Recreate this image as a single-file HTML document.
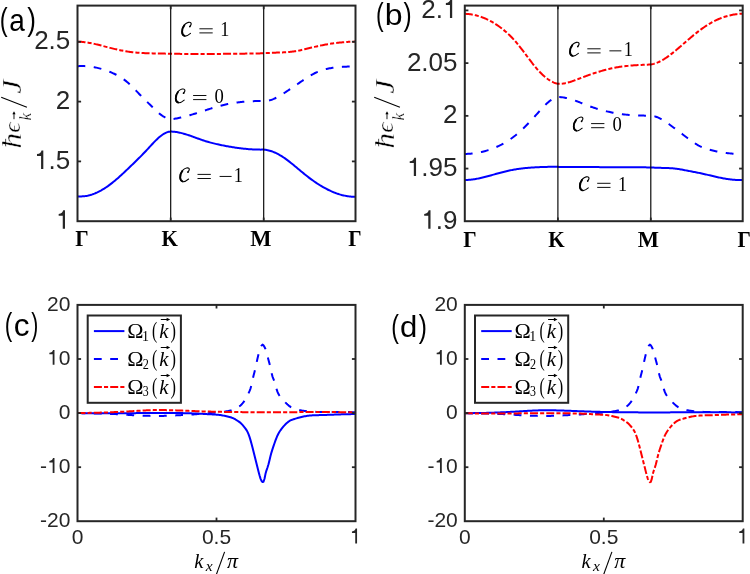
<!DOCTYPE html>
<html><head><meta charset="utf-8"><style>
html,body{margin:0;padding:0;background:#fff;}
svg{display:block;will-change:transform;}
text{-webkit-font-smoothing:antialiased;}
</style></head><body>
<svg width="750" height="574" viewBox="0 0 750 574">
<rect x="0" y="0" width="750" height="574" fill="#fff"/>
<path d="M77.50 196.30 L78.49 196.38 L79.48 196.42 L80.47 196.43 L81.47 196.42 L82.46 196.37 L83.45 196.30 L84.44 196.19 L85.43 196.06 L86.42 195.90 L87.41 195.71 L88.41 195.49 L89.40 195.24 L90.39 194.97 L91.38 194.67 L92.37 194.35 L93.36 193.99 L94.36 193.62 L95.35 193.22 L96.34 192.79 L97.33 192.34 L98.32 191.86 L99.31 191.36 L100.30 190.84 L101.30 190.30 L102.29 189.73 L103.28 189.14 L104.27 188.53 L105.26 187.89 L106.25 187.24 L107.24 186.56 L108.24 185.87 L109.23 185.15 L110.22 184.41 L111.21 183.66 L112.20 182.88 L113.19 182.09 L114.19 181.28 L115.18 180.45 L116.17 179.61 L117.16 178.76 L118.15 177.89 L119.14 177.01 L120.13 176.11 L121.13 175.21 L122.12 174.30 L123.11 173.38 L124.10 172.45 L125.09 171.51 L126.08 170.57 L127.07 169.63 L128.07 168.68 L129.06 167.73 L130.05 166.78 L131.04 165.83 L132.03 164.87 L133.02 163.92 L134.01 162.96 L135.01 161.99 L136.00 161.02 L136.99 160.05 L137.98 159.07 L138.97 158.08 L139.96 157.09 L140.96 156.09 L141.95 155.08 L142.94 154.06 L143.93 153.03 L144.92 151.99 L145.91 150.94 L146.90 149.88 L147.90 148.81 L148.89 147.73 L149.88 146.65 L150.87 145.58 L151.86 144.51 L152.85 143.45 L153.84 142.41 L154.84 141.39 L155.83 140.39 L156.82 139.43 L157.81 138.49 L158.80 137.60 L159.79 136.75 L160.79 135.95 L161.78 135.21 L162.77 134.52 L163.76 133.89 L164.75 133.33 L165.74 132.83 L166.73 132.42 L167.73 132.08 L168.72 131.83 L169.71 131.67 L170.70 131.60 L171.70 131.62 L172.70 131.67 L173.70 131.74 L174.70 131.84 L175.70 131.97 L176.70 132.11 L177.70 132.28 L178.70 132.47 L179.70 132.67 L180.70 132.90 L181.70 133.14 L182.70 133.40 L183.70 133.68 L184.70 133.96 L185.70 134.26 L186.70 134.58 L187.70 134.90 L188.70 135.23 L189.70 135.57 L190.70 135.91 L191.70 136.27 L192.70 136.62 L193.70 136.98 L194.70 137.35 L195.70 137.71 L196.70 138.08 L197.70 138.44 L198.70 138.80 L199.70 139.16 L200.70 139.52 L201.70 139.86 L202.70 140.21 L203.70 140.54 L204.70 140.87 L205.70 141.18 L206.70 141.49 L207.70 141.79 L208.70 142.08 L209.70 142.36 L210.70 142.63 L211.70 142.89 L212.70 143.15 L213.70 143.40 L214.70 143.64 L215.70 143.87 L216.70 144.10 L217.70 144.33 L218.70 144.55 L219.70 144.76 L220.70 144.97 L221.70 145.18 L222.70 145.38 L223.70 145.58 L224.70 145.77 L225.70 145.96 L226.70 146.15 L227.70 146.34 L228.70 146.51 L229.70 146.69 L230.70 146.86 L231.70 147.03 L232.70 147.19 L233.70 147.35 L234.70 147.50 L235.70 147.65 L236.70 147.80 L237.70 147.94 L238.70 148.07 L239.70 148.20 L240.70 148.32 L241.70 148.44 L242.70 148.56 L243.70 148.67 L244.70 148.77 L245.70 148.87 L246.70 148.96 L247.70 149.05 L248.70 149.13 L249.70 149.21 L250.70 149.28 L251.70 149.34 L252.70 149.40 L253.70 149.45 L254.70 149.49 L255.70 149.53 L256.70 149.56 L257.70 149.59 L258.70 149.61 L259.70 149.62 L260.70 149.63 L261.70 149.62 L262.70 149.62 L263.70 149.60 L264.70 149.69 L265.70 149.82 L266.69 149.99 L267.69 150.18 L268.69 150.42 L269.69 150.68 L270.68 150.98 L271.68 151.31 L272.68 151.68 L273.68 152.07 L274.68 152.49 L275.67 152.94 L276.67 153.42 L277.67 153.93 L278.67 154.46 L279.67 155.02 L280.66 155.60 L281.66 156.21 L282.66 156.84 L283.66 157.50 L284.65 158.18 L285.65 158.88 L286.65 159.60 L287.65 160.34 L288.65 161.10 L289.64 161.87 L290.64 162.66 L291.64 163.46 L292.64 164.27 L293.63 165.10 L294.63 165.92 L295.63 166.76 L296.63 167.59 L297.63 168.43 L298.62 169.27 L299.62 170.10 L300.62 170.93 L301.62 171.76 L302.62 172.58 L303.61 173.39 L304.61 174.20 L305.61 175.00 L306.61 175.79 L307.60 176.57 L308.60 177.34 L309.60 178.10 L310.60 178.85 L311.60 179.59 L312.59 180.31 L313.59 181.02 L314.59 181.72 L315.59 182.40 L316.58 183.07 L317.58 183.73 L318.58 184.37 L319.58 185.00 L320.58 185.61 L321.57 186.21 L322.57 186.80 L323.57 187.37 L324.57 187.92 L325.57 188.46 L326.56 188.99 L327.56 189.50 L328.56 189.99 L329.56 190.47 L330.55 190.94 L331.55 191.38 L332.55 191.81 L333.55 192.23 L334.55 192.62 L335.54 193.00 L336.54 193.37 L337.54 193.71 L338.54 194.04 L339.53 194.36 L340.53 194.65 L341.53 194.93 L342.53 195.18 L343.53 195.42 L344.52 195.64 L345.52 195.85 L346.52 196.03 L347.52 196.19 L348.52 196.34 L349.51 196.46 L350.51 196.57 L351.51 196.66 L352.51 196.72 L353.50 196.77 L354.50 196.79 L355.50 196.80" fill="none" stroke="#0000ff" stroke-width="2.00" stroke-linejoin="round"/>
<path d="M77.50 66.20 L78.49 66.14 L79.48 66.09 L80.47 66.06 L81.47 66.05 L82.46 66.05 L83.45 66.07 L84.44 66.10 L85.43 66.15 L86.42 66.21 L87.41 66.29 L88.41 66.38 L89.40 66.48 L90.39 66.61 L91.38 66.74 L92.37 66.89 L93.36 67.06 L94.36 67.24 L95.35 67.43 L96.34 67.64 L97.33 67.87 L98.32 68.10 L99.31 68.35 L100.30 68.62 L101.30 68.90 L102.29 69.19 L103.28 69.50 L104.27 69.82 L105.26 70.15 L106.25 70.50 L107.24 70.87 L108.24 71.24 L109.23 71.63 L110.22 72.03 L111.21 72.45 L112.20 72.88 L113.19 73.32 L114.19 73.78 L115.18 74.25 L116.17 74.75 L117.16 75.26 L118.15 75.80 L119.14 76.36 L120.13 76.95 L121.13 77.56 L122.12 78.21 L123.11 78.89 L124.10 79.59 L125.09 80.34 L126.08 81.12 L127.07 81.94 L128.07 82.79 L129.06 83.69 L130.05 84.62 L131.04 85.58 L132.03 86.56 L133.02 87.56 L134.01 88.57 L135.01 89.60 L136.00 90.62 L136.99 91.65 L137.98 92.68 L138.97 93.70 L139.96 94.71 L140.96 95.71 L141.95 96.71 L142.94 97.70 L143.93 98.68 L144.92 99.67 L145.91 100.65 L146.90 101.63 L147.90 102.61 L148.89 103.60 L149.88 104.58 L150.87 105.57 L151.86 106.55 L152.85 107.54 L153.84 108.51 L154.84 109.47 L155.83 110.41 L156.82 111.32 L157.81 112.21 L158.80 113.06 L159.79 113.87 L160.79 114.64 L161.78 115.36 L162.77 116.03 L163.76 116.65 L164.75 117.21 L165.74 117.72 L166.73 118.16 L167.73 118.55 L168.72 118.86 L169.71 119.12 L170.70 119.30 L171.70 119.18 L172.70 119.05 L173.70 118.91 L174.70 118.75 L175.70 118.59 L176.70 118.41 L177.70 118.22 L178.70 118.02 L179.70 117.81 L180.70 117.59 L181.70 117.36 L182.70 117.12 L183.70 116.88 L184.70 116.62 L185.70 116.36 L186.70 116.09 L187.70 115.82 L188.70 115.54 L189.70 115.25 L190.70 114.96 L191.70 114.66 L192.70 114.36 L193.70 114.05 L194.70 113.74 L195.70 113.43 L196.70 113.11 L197.70 112.79 L198.70 112.47 L199.70 112.15 L200.70 111.82 L201.70 111.50 L202.70 111.17 L203.70 110.84 L204.70 110.52 L205.70 110.19 L206.70 109.87 L207.70 109.55 L208.70 109.23 L209.70 108.91 L210.70 108.60 L211.70 108.29 L212.70 107.98 L213.70 107.68 L214.70 107.38 L215.70 107.08 L216.70 106.80 L217.70 106.51 L218.70 106.24 L219.70 105.97 L220.70 105.70 L221.70 105.45 L222.70 105.20 L223.70 104.96 L224.70 104.73 L225.70 104.51 L226.70 104.29 L227.70 104.09 L228.70 103.89 L229.70 103.69 L230.70 103.51 L231.70 103.33 L232.70 103.16 L233.70 103.00 L234.70 102.84 L235.70 102.69 L236.70 102.55 L237.70 102.42 L238.70 102.29 L239.70 102.17 L240.70 102.06 L241.70 101.95 L242.70 101.85 L243.70 101.75 L244.70 101.67 L245.70 101.58 L246.70 101.51 L247.70 101.44 L248.70 101.38 L249.70 101.32 L250.70 101.27 L251.70 101.22 L252.70 101.18 L253.70 101.15 L254.70 101.12 L255.70 101.10 L256.70 101.08 L257.70 101.07 L258.70 101.06 L259.70 101.06 L260.70 101.06 L261.70 101.07 L262.70 101.08 L263.70 101.10 L264.70 101.10 L265.70 101.05 L266.69 100.95 L267.69 100.80 L268.69 100.59 L269.69 100.34 L270.68 100.05 L271.68 99.72 L272.68 99.35 L273.68 98.94 L274.68 98.50 L275.67 98.02 L276.67 97.52 L277.67 96.99 L278.67 96.44 L279.67 95.87 L280.66 95.27 L281.66 94.66 L282.66 94.04 L283.66 93.40 L284.65 92.75 L285.65 92.10 L286.65 91.44 L287.65 90.77 L288.65 90.11 L289.64 89.44 L290.64 88.76 L291.64 88.09 L292.64 87.41 L293.63 86.73 L294.63 86.05 L295.63 85.37 L296.63 84.68 L297.63 84.00 L298.62 83.31 L299.62 82.63 L300.62 81.94 L301.62 81.26 L302.62 80.58 L303.61 79.90 L304.61 79.23 L305.61 78.57 L306.61 77.91 L307.60 77.27 L308.60 76.64 L309.60 76.03 L310.60 75.43 L311.60 74.85 L312.59 74.29 L313.59 73.76 L314.59 73.24 L315.59 72.75 L316.58 72.29 L317.58 71.85 L318.58 71.44 L319.58 71.06 L320.58 70.69 L321.57 70.35 L322.57 70.03 L323.57 69.74 L324.57 69.46 L325.57 69.20 L326.56 68.95 L327.56 68.73 L328.56 68.52 L329.56 68.33 L330.55 68.15 L331.55 67.98 L332.55 67.83 L333.55 67.69 L334.55 67.56 L335.54 67.44 L336.54 67.33 L337.54 67.23 L338.54 67.14 L339.53 67.05 L340.53 66.98 L341.53 66.91 L342.53 66.84 L343.53 66.78 L344.52 66.73 L345.52 66.68 L346.52 66.63 L347.52 66.58 L348.52 66.54 L349.51 66.49 L350.51 66.45 L351.51 66.40 L352.51 66.36 L353.50 66.31 L354.50 66.25 L355.50 66.20" fill="none" stroke="#0000ff" stroke-width="2.00" stroke-linejoin="round" stroke-dasharray="7.8 8.5"/>
<path d="M77.50 41.70 L78.49 41.71 L79.48 41.75 L80.47 41.80 L81.47 41.86 L82.46 41.94 L83.45 42.04 L84.44 42.15 L85.43 42.27 L86.42 42.41 L87.41 42.56 L88.41 42.72 L89.40 42.89 L90.39 43.07 L91.38 43.26 L92.37 43.46 L93.36 43.67 L94.36 43.89 L95.35 44.11 L96.34 44.35 L97.33 44.58 L98.32 44.82 L99.31 45.07 L100.30 45.32 L101.30 45.57 L102.29 45.83 L103.28 46.09 L104.27 46.35 L105.26 46.61 L106.25 46.87 L107.24 47.13 L108.24 47.39 L109.23 47.65 L110.22 47.90 L111.21 48.15 L112.20 48.40 L113.19 48.64 L114.19 48.88 L115.18 49.12 L116.17 49.34 L117.16 49.57 L118.15 49.79 L119.14 50.00 L120.13 50.21 L121.13 50.41 L122.12 50.60 L123.11 50.79 L124.10 50.97 L125.09 51.14 L126.08 51.31 L127.07 51.47 L128.07 51.62 L129.06 51.77 L130.05 51.90 L131.04 52.03 L132.03 52.15 L133.02 52.26 L134.01 52.37 L135.01 52.46 L136.00 52.56 L136.99 52.64 L137.98 52.72 L138.97 52.79 L139.96 52.86 L140.96 52.92 L141.95 52.98 L142.94 53.04 L143.93 53.08 L144.92 53.13 L145.91 53.17 L146.90 53.21 L147.90 53.24 L148.89 53.27 L149.88 53.30 L150.87 53.33 L151.86 53.35 L152.85 53.38 L153.84 53.40 L154.84 53.42 L155.83 53.44 L156.82 53.45 L157.81 53.47 L158.80 53.49 L159.79 53.51 L160.79 53.53 L161.78 53.55 L162.77 53.57 L163.76 53.59 L164.75 53.61 L165.74 53.64 L166.73 53.66 L167.73 53.69 L168.72 53.73 L169.71 53.76 L170.70 53.80 L171.70 53.81 L172.70 53.82 L173.70 53.83 L174.70 53.84 L175.70 53.84 L176.70 53.85 L177.70 53.86 L178.70 53.87 L179.70 53.87 L180.70 53.88 L181.70 53.89 L182.70 53.89 L183.70 53.90 L184.70 53.90 L185.70 53.91 L186.70 53.91 L187.70 53.92 L188.70 53.92 L189.70 53.92 L190.70 53.93 L191.70 53.93 L192.70 53.93 L193.70 53.94 L194.70 53.94 L195.70 53.94 L196.70 53.94 L197.70 53.94 L198.70 53.94 L199.70 53.94 L200.70 53.94 L201.70 53.94 L202.70 53.94 L203.70 53.94 L204.70 53.94 L205.70 53.94 L206.70 53.94 L207.70 53.94 L208.70 53.93 L209.70 53.93 L210.70 53.93 L211.70 53.92 L212.70 53.92 L213.70 53.92 L214.70 53.91 L215.70 53.91 L216.70 53.90 L217.70 53.90 L218.70 53.89 L219.70 53.88 L220.70 53.88 L221.70 53.87 L222.70 53.86 L223.70 53.86 L224.70 53.85 L225.70 53.84 L226.70 53.83 L227.70 53.82 L228.70 53.82 L229.70 53.81 L230.70 53.80 L231.70 53.79 L232.70 53.78 L233.70 53.77 L234.70 53.76 L235.70 53.74 L236.70 53.73 L237.70 53.72 L238.70 53.71 L239.70 53.70 L240.70 53.68 L241.70 53.67 L242.70 53.66 L243.70 53.64 L244.70 53.63 L245.70 53.61 L246.70 53.60 L247.70 53.58 L248.70 53.57 L249.70 53.55 L250.70 53.54 L251.70 53.52 L252.70 53.50 L253.70 53.49 L254.70 53.47 L255.70 53.45 L256.70 53.43 L257.70 53.42 L258.70 53.40 L259.70 53.38 L260.70 53.36 L261.70 53.34 L262.70 53.32 L263.70 53.30 L264.70 53.21 L265.70 53.13 L266.69 53.06 L267.69 52.99 L268.69 52.94 L269.69 52.88 L270.68 52.84 L271.68 52.80 L272.68 52.76 L273.68 52.72 L274.68 52.69 L275.67 52.65 L276.67 52.62 L277.67 52.59 L278.67 52.56 L279.67 52.52 L280.66 52.49 L281.66 52.45 L282.66 52.41 L283.66 52.36 L284.65 52.31 L285.65 52.25 L286.65 52.18 L287.65 52.11 L288.65 52.03 L289.64 51.94 L290.64 51.84 L291.64 51.73 L292.64 51.61 L293.63 51.47 L294.63 51.33 L295.63 51.17 L296.63 50.99 L297.63 50.81 L298.62 50.62 L299.62 50.41 L300.62 50.20 L301.62 49.98 L302.62 49.75 L303.61 49.52 L304.61 49.28 L305.61 49.04 L306.61 48.80 L307.60 48.55 L308.60 48.30 L309.60 48.06 L310.60 47.81 L311.60 47.57 L312.59 47.33 L313.59 47.09 L314.59 46.86 L315.59 46.64 L316.58 46.41 L317.58 46.19 L318.58 45.98 L319.58 45.77 L320.58 45.56 L321.57 45.36 L322.57 45.16 L323.57 44.97 L324.57 44.79 L325.57 44.60 L326.56 44.43 L327.56 44.25 L328.56 44.09 L329.56 43.92 L330.55 43.77 L331.55 43.61 L332.55 43.47 L333.55 43.33 L334.55 43.19 L335.54 43.06 L336.54 42.93 L337.54 42.81 L338.54 42.70 L339.53 42.59 L340.53 42.48 L341.53 42.39 L342.53 42.29 L343.53 42.21 L344.52 42.12 L345.52 42.05 L346.52 41.98 L347.52 41.91 L348.52 41.85 L349.51 41.80 L350.51 41.75 L351.51 41.71 L352.51 41.67 L353.50 41.64 L354.50 41.62 L355.50 41.60" fill="none" stroke="#ff0000" stroke-width="2.00" stroke-linejoin="round" stroke-dasharray="8.0 2.1 4.1 2.1"/>
<path d="M464.80 180.00 L465.79 179.99 L466.78 179.96 L467.77 179.91 L468.76 179.85 L469.75 179.77 L470.74 179.67 L471.73 179.56 L472.72 179.44 L473.71 179.30 L474.70 179.14 L475.69 178.98 L476.69 178.80 L477.68 178.61 L478.67 178.42 L479.66 178.21 L480.65 177.99 L481.64 177.76 L482.63 177.53 L483.62 177.29 L484.61 177.04 L485.60 176.79 L486.59 176.53 L487.58 176.27 L488.57 176.00 L489.56 175.73 L490.55 175.46 L491.54 175.18 L492.53 174.90 L493.52 174.63 L494.51 174.35 L495.50 174.07 L496.49 173.79 L497.48 173.52 L498.47 173.24 L499.46 172.97 L500.46 172.71 L501.45 172.45 L502.44 172.19 L503.43 171.93 L504.42 171.69 L505.41 171.44 L506.40 171.21 L507.39 170.98 L508.38 170.75 L509.37 170.54 L510.36 170.33 L511.35 170.13 L512.34 169.93 L513.33 169.74 L514.32 169.57 L515.31 169.40 L516.30 169.23 L517.29 169.08 L518.28 168.94 L519.27 168.80 L520.26 168.67 L521.25 168.54 L522.24 168.42 L523.24 168.31 L524.23 168.21 L525.22 168.10 L526.21 168.01 L527.20 167.92 L528.19 167.83 L529.18 167.75 L530.17 167.67 L531.16 167.60 L532.15 167.53 L533.14 167.46 L534.13 167.40 L535.12 167.34 L536.11 167.29 L537.10 167.23 L538.09 167.18 L539.08 167.14 L540.07 167.10 L541.06 167.06 L542.05 167.02 L543.04 166.99 L544.03 166.96 L545.02 166.93 L546.01 166.90 L547.01 166.88 L548.00 166.86 L548.99 166.84 L549.98 166.83 L550.97 166.82 L551.96 166.81 L552.95 166.80 L553.94 166.79 L554.93 166.79 L555.92 166.79 L556.91 166.79 L557.90 166.80 L558.90 166.91 L559.90 166.91 L560.90 166.92 L561.90 166.92 L562.89 166.93 L563.89 166.93 L564.89 166.94 L565.89 166.94 L566.89 166.95 L567.89 166.95 L568.89 166.96 L569.89 166.96 L570.89 166.97 L571.88 166.98 L572.88 166.98 L573.88 166.99 L574.88 166.99 L575.88 167.00 L576.88 167.00 L577.88 167.01 L578.88 167.01 L579.88 167.02 L580.88 167.02 L581.87 167.03 L582.87 167.03 L583.87 167.04 L584.87 167.05 L585.87 167.05 L586.87 167.06 L587.87 167.06 L588.87 167.07 L589.87 167.07 L590.86 167.08 L591.86 167.08 L592.86 167.09 L593.86 167.09 L594.86 167.10 L595.86 167.10 L596.86 167.11 L597.86 167.12 L598.86 167.12 L599.85 167.13 L600.85 167.13 L601.85 167.14 L602.85 167.14 L603.85 167.15 L604.85 167.15 L605.85 167.16 L606.85 167.16 L607.85 167.17 L608.85 167.17 L609.84 167.18 L610.84 167.18 L611.84 167.19 L612.84 167.20 L613.84 167.20 L614.84 167.21 L615.84 167.21 L616.84 167.22 L617.84 167.22 L618.83 167.23 L619.83 167.23 L620.83 167.24 L621.83 167.24 L622.83 167.25 L623.83 167.25 L624.83 167.26 L625.83 167.27 L626.83 167.27 L627.82 167.28 L628.82 167.28 L629.82 167.29 L630.82 167.29 L631.82 167.30 L632.82 167.30 L633.82 167.31 L634.82 167.31 L635.82 167.32 L636.82 167.32 L637.81 167.33 L638.81 167.34 L639.81 167.34 L640.81 167.35 L641.81 167.35 L642.81 167.36 L643.81 167.36 L644.81 167.37 L645.81 167.37 L646.80 167.38 L647.80 167.38 L648.80 167.39 L649.80 167.39 L650.80 167.40 L651.80 167.48 L652.80 167.55 L653.80 167.61 L654.80 167.66 L655.79 167.71 L656.79 167.75 L657.79 167.78 L658.79 167.81 L659.79 167.83 L660.79 167.86 L661.79 167.88 L662.79 167.90 L663.79 167.92 L664.78 167.95 L665.78 167.98 L666.78 168.01 L667.78 168.05 L668.78 168.09 L669.78 168.14 L670.78 168.20 L671.78 168.27 L672.78 168.35 L673.77 168.44 L674.77 168.54 L675.77 168.66 L676.77 168.79 L677.77 168.93 L678.77 169.08 L679.77 169.25 L680.77 169.42 L681.77 169.60 L682.77 169.78 L683.76 169.97 L684.76 170.17 L685.76 170.36 L686.76 170.56 L687.76 170.75 L688.76 170.95 L689.76 171.14 L690.76 171.33 L691.76 171.52 L692.75 171.72 L693.75 171.91 L694.75 172.10 L695.75 172.30 L696.75 172.49 L697.75 172.69 L698.75 172.89 L699.75 173.10 L700.75 173.31 L701.74 173.52 L702.74 173.74 L703.74 173.96 L704.74 174.19 L705.74 174.42 L706.74 174.65 L707.74 174.88 L708.74 175.11 L709.74 175.34 L710.73 175.58 L711.73 175.81 L712.73 176.04 L713.73 176.28 L714.73 176.51 L715.73 176.74 L716.73 176.96 L717.73 177.19 L718.73 177.40 L719.73 177.62 L720.72 177.82 L721.72 178.03 L722.72 178.22 L723.72 178.41 L724.72 178.59 L725.72 178.75 L726.72 178.91 L727.72 179.06 L728.72 179.20 L729.71 179.33 L730.71 179.45 L731.71 179.56 L732.71 179.65 L733.71 179.74 L734.71 179.81 L735.71 179.88 L736.71 179.93 L737.71 179.97 L738.70 180.00 L739.70 180.02 L740.70 180.02 L741.70 180.02 L742.70 180.00" fill="none" stroke="#0000ff" stroke-width="2.00" stroke-linejoin="round"/>
<path d="M464.80 153.90 L465.79 153.90 L466.78 153.88 L467.77 153.85 L468.76 153.80 L469.75 153.74 L470.74 153.67 L471.73 153.59 L472.72 153.49 L473.71 153.37 L474.70 153.25 L475.69 153.11 L476.69 152.96 L477.68 152.79 L478.67 152.61 L479.66 152.41 L480.65 152.20 L481.64 151.98 L482.63 151.74 L483.62 151.49 L484.61 151.23 L485.60 150.95 L486.59 150.66 L487.58 150.35 L488.57 150.03 L489.56 149.70 L490.55 149.35 L491.54 148.98 L492.53 148.61 L493.52 148.22 L494.51 147.81 L495.50 147.39 L496.49 146.96 L497.48 146.51 L498.47 146.04 L499.46 145.56 L500.46 145.07 L501.45 144.57 L502.44 144.04 L503.43 143.50 L504.42 142.95 L505.41 142.37 L506.40 141.78 L507.39 141.17 L508.38 140.54 L509.37 139.89 L510.36 139.21 L511.35 138.52 L512.34 137.80 L513.33 137.06 L514.32 136.29 L515.31 135.51 L516.30 134.69 L517.29 133.86 L518.28 133.01 L519.27 132.13 L520.26 131.23 L521.25 130.32 L522.24 129.39 L523.24 128.44 L524.23 127.47 L525.22 126.49 L526.21 125.49 L527.20 124.48 L528.19 123.46 L529.18 122.42 L530.17 121.37 L531.16 120.31 L532.15 119.25 L533.14 118.17 L534.13 117.09 L535.12 116.01 L536.11 114.91 L537.10 113.82 L538.09 112.72 L539.08 111.62 L540.07 110.52 L541.06 109.44 L542.05 108.36 L543.04 107.30 L544.03 106.27 L545.02 105.26 L546.01 104.29 L547.01 103.35 L548.00 102.46 L548.99 101.61 L549.98 100.82 L550.97 100.09 L551.96 99.42 L552.95 98.81 L553.94 98.29 L554.93 97.83 L555.92 97.47 L556.91 97.19 L557.90 97.00 L558.90 97.02 L559.90 97.06 L560.90 97.14 L561.90 97.24 L562.89 97.37 L563.89 97.53 L564.89 97.71 L565.89 97.91 L566.89 98.13 L567.89 98.38 L568.89 98.64 L569.89 98.92 L570.89 99.22 L571.88 99.53 L572.88 99.86 L573.88 100.20 L574.88 100.55 L575.88 100.91 L576.88 101.28 L577.88 101.66 L578.88 102.04 L579.88 102.43 L580.88 102.82 L581.87 103.22 L582.87 103.62 L583.87 104.01 L584.87 104.41 L585.87 104.80 L586.87 105.19 L587.87 105.58 L588.87 105.95 L589.87 106.32 L590.86 106.69 L591.86 107.04 L592.86 107.38 L593.86 107.72 L594.86 108.05 L595.86 108.37 L596.86 108.68 L597.86 108.99 L598.86 109.28 L599.85 109.57 L600.85 109.85 L601.85 110.13 L602.85 110.40 L603.85 110.66 L604.85 110.91 L605.85 111.15 L606.85 111.39 L607.85 111.63 L608.85 111.85 L609.84 112.07 L610.84 112.28 L611.84 112.49 L612.84 112.69 L613.84 112.88 L614.84 113.06 L615.84 113.24 L616.84 113.41 L617.84 113.58 L618.83 113.73 L619.83 113.88 L620.83 114.02 L621.83 114.16 L622.83 114.28 L623.83 114.40 L624.83 114.51 L625.83 114.62 L626.83 114.72 L627.82 114.81 L628.82 114.89 L629.82 114.97 L630.82 115.04 L631.82 115.10 L632.82 115.17 L633.82 115.22 L634.82 115.27 L635.82 115.32 L636.82 115.37 L637.81 115.41 L638.81 115.45 L639.81 115.48 L640.81 115.52 L641.81 115.55 L642.81 115.58 L643.81 115.60 L644.81 115.63 L645.81 115.66 L646.80 115.69 L647.80 115.71 L648.80 115.74 L649.80 115.77 L650.80 115.80 L651.80 115.85 L652.80 115.97 L653.80 116.15 L654.80 116.39 L655.79 116.68 L656.79 117.02 L657.79 117.41 L658.79 117.85 L659.79 118.33 L660.79 118.85 L661.79 119.40 L662.79 119.99 L663.79 120.60 L664.78 121.24 L665.78 121.91 L666.78 122.59 L667.78 123.29 L668.78 124.01 L669.78 124.73 L670.78 125.46 L671.78 126.20 L672.78 126.94 L673.77 127.68 L674.77 128.42 L675.77 129.17 L676.77 129.91 L677.77 130.66 L678.77 131.41 L679.77 132.17 L680.77 132.92 L681.77 133.67 L682.77 134.43 L683.76 135.19 L684.76 135.94 L685.76 136.70 L686.76 137.46 L687.76 138.21 L688.76 138.96 L689.76 139.70 L690.76 140.42 L691.76 141.14 L692.75 141.84 L693.75 142.52 L694.75 143.18 L695.75 143.82 L696.75 144.43 L697.75 145.01 L698.75 145.57 L699.75 146.09 L700.75 146.58 L701.74 147.04 L702.74 147.47 L703.74 147.87 L704.74 148.25 L705.74 148.60 L706.74 148.94 L707.74 149.25 L708.74 149.54 L709.74 149.82 L710.73 150.08 L711.73 150.33 L712.73 150.56 L713.73 150.79 L714.73 151.01 L715.73 151.22 L716.73 151.42 L717.73 151.61 L718.73 151.80 L719.73 151.98 L720.72 152.16 L721.72 152.32 L722.72 152.48 L723.72 152.63 L724.72 152.78 L725.72 152.91 L726.72 153.04 L727.72 153.16 L728.72 153.28 L729.71 153.38 L730.71 153.48 L731.71 153.57 L732.71 153.65 L733.71 153.72 L734.71 153.79 L735.71 153.84 L736.71 153.89 L737.71 153.93 L738.70 153.96 L739.70 153.98 L740.70 154.00 L741.70 154.00 L742.70 154.00" fill="none" stroke="#0000ff" stroke-width="2.00" stroke-linejoin="round" stroke-dasharray="7.8 8.5"/>
<path d="M464.80 13.80 L465.79 13.85 L466.78 13.91 L467.77 13.99 L468.76 14.09 L469.75 14.21 L470.74 14.35 L471.73 14.51 L472.72 14.68 L473.71 14.88 L474.70 15.09 L475.69 15.32 L476.69 15.57 L477.68 15.85 L478.67 16.13 L479.66 16.44 L480.65 16.77 L481.64 17.12 L482.63 17.49 L483.62 17.87 L484.61 18.28 L485.60 18.70 L486.59 19.15 L487.58 19.61 L488.57 20.10 L489.56 20.60 L490.55 21.13 L491.54 21.67 L492.53 22.24 L493.52 22.82 L494.51 23.43 L495.50 24.05 L496.49 24.70 L497.48 25.36 L498.47 26.05 L499.46 26.76 L500.46 27.48 L501.45 28.23 L502.44 29.00 L503.43 29.80 L504.42 30.61 L505.41 31.45 L506.40 32.31 L507.39 33.20 L508.38 34.12 L509.37 35.05 L510.36 36.02 L511.35 37.02 L512.34 38.04 L513.33 39.09 L514.32 40.17 L515.31 41.28 L516.30 42.42 L517.29 43.59 L518.28 44.79 L519.27 46.03 L520.26 47.28 L521.25 48.56 L522.24 49.85 L523.24 51.16 L524.23 52.48 L525.22 53.81 L526.21 55.14 L527.20 56.48 L528.19 57.80 L529.18 59.12 L530.17 60.43 L531.16 61.73 L532.15 63.01 L533.14 64.27 L534.13 65.50 L535.12 66.71 L536.11 67.88 L537.10 69.03 L538.09 70.14 L539.08 71.21 L540.07 72.26 L541.06 73.26 L542.05 74.23 L543.04 75.16 L544.03 76.05 L545.02 76.90 L546.01 77.71 L547.01 78.48 L548.00 79.20 L548.99 79.88 L549.98 80.51 L550.97 81.10 L551.96 81.64 L552.95 82.13 L553.94 82.57 L554.93 82.95 L555.92 83.29 L556.91 83.57 L557.90 83.80 L558.90 83.83 L559.90 83.83 L560.90 83.78 L561.90 83.70 L562.89 83.59 L563.89 83.44 L564.89 83.27 L565.89 83.06 L566.89 82.83 L567.89 82.58 L568.89 82.30 L569.89 82.01 L570.89 81.69 L571.88 81.36 L572.88 81.02 L573.88 80.66 L574.88 80.30 L575.88 79.92 L576.88 79.54 L577.88 79.15 L578.88 78.76 L579.88 78.38 L580.88 77.99 L581.87 77.60 L582.87 77.22 L583.87 76.84 L584.87 76.47 L585.87 76.10 L586.87 75.73 L587.87 75.37 L588.87 75.02 L589.87 74.67 L590.86 74.32 L591.86 73.98 L592.86 73.64 L593.86 73.31 L594.86 72.98 L595.86 72.66 L596.86 72.34 L597.86 72.03 L598.86 71.72 L599.85 71.42 L600.85 71.13 L601.85 70.84 L602.85 70.56 L603.85 70.28 L604.85 70.01 L605.85 69.75 L606.85 69.50 L607.85 69.25 L608.85 69.01 L609.84 68.77 L610.84 68.54 L611.84 68.33 L612.84 68.11 L613.84 67.91 L614.84 67.72 L615.84 67.53 L616.84 67.35 L617.84 67.18 L618.83 67.02 L619.83 66.86 L620.83 66.72 L621.83 66.58 L622.83 66.45 L623.83 66.32 L624.83 66.20 L625.83 66.09 L626.83 65.98 L627.82 65.88 L628.82 65.78 L629.82 65.69 L630.82 65.60 L631.82 65.52 L632.82 65.44 L633.82 65.37 L634.82 65.30 L635.82 65.23 L636.82 65.17 L637.81 65.11 L638.81 65.06 L639.81 65.00 L640.81 64.95 L641.81 64.90 L642.81 64.85 L643.81 64.81 L644.81 64.76 L645.81 64.72 L646.80 64.67 L647.80 64.63 L648.80 64.59 L649.80 64.54 L650.80 64.50 L651.80 64.33 L652.80 64.11 L653.80 63.85 L654.80 63.55 L655.79 63.21 L656.79 62.84 L657.79 62.43 L658.79 61.98 L659.79 61.50 L660.79 60.99 L661.79 60.45 L662.79 59.88 L663.79 59.28 L664.78 58.65 L665.78 58.00 L666.78 57.32 L667.78 56.63 L668.78 55.91 L669.78 55.17 L670.78 54.41 L671.78 53.64 L672.78 52.85 L673.77 52.05 L674.77 51.24 L675.77 50.41 L676.77 49.58 L677.77 48.73 L678.77 47.88 L679.77 47.03 L680.77 46.17 L681.77 45.30 L682.77 44.44 L683.76 43.57 L684.76 42.70 L685.76 41.84 L686.76 40.97 L687.76 40.11 L688.76 39.25 L689.76 38.40 L690.76 37.55 L691.76 36.71 L692.75 35.87 L693.75 35.05 L694.75 34.23 L695.75 33.43 L696.75 32.63 L697.75 31.85 L698.75 31.08 L699.75 30.33 L700.75 29.59 L701.74 28.86 L702.74 28.15 L703.74 27.46 L704.74 26.77 L705.74 26.11 L706.74 25.46 L707.74 24.83 L708.74 24.21 L709.74 23.61 L710.73 23.03 L711.73 22.47 L712.73 21.92 L713.73 21.39 L714.73 20.88 L715.73 20.40 L716.73 19.92 L717.73 19.47 L718.73 19.04 L719.73 18.62 L720.72 18.23 L721.72 17.85 L722.72 17.49 L723.72 17.14 L724.72 16.81 L725.72 16.50 L726.72 16.21 L727.72 15.93 L728.72 15.67 L729.71 15.43 L730.71 15.20 L731.71 14.98 L732.71 14.78 L733.71 14.60 L734.71 14.43 L735.71 14.28 L736.71 14.14 L737.71 14.02 L738.70 13.91 L739.70 13.81 L740.70 13.73 L741.70 13.66 L742.70 13.60" fill="none" stroke="#ff0000" stroke-width="2.00" stroke-linejoin="round" stroke-dasharray="8.0 2.1 4.1 2.1"/>
<line x1="170.70" y1="5.60" x2="170.70" y2="221.20" stroke="#000" stroke-width="1.15"/>
<line x1="263.70" y1="5.60" x2="263.70" y2="221.20" stroke="#000" stroke-width="1.15"/>
<line x1="557.90" y1="5.60" x2="557.90" y2="221.20" stroke="#000" stroke-width="1.15"/>
<line x1="650.80" y1="5.60" x2="650.80" y2="221.20" stroke="#000" stroke-width="1.15"/>
<path d="M77.50 413.00 L78.50 413.03 L79.50 413.05 L80.50 413.08 L81.50 413.10 L82.50 413.13 L83.50 413.15 L84.50 413.17 L85.50 413.19 L86.50 413.21 L87.50 413.22 L88.50 413.24 L89.50 413.25 L90.50 413.26 L91.50 413.28 L92.50 413.29 L93.50 413.30 L94.50 413.31 L95.50 413.32 L96.50 413.32 L97.50 413.33 L98.50 413.33 L99.50 413.34 L100.50 413.34 L101.50 413.35 L102.50 413.35 L103.50 413.35 L104.50 413.35 L105.50 413.35 L106.50 413.35 L107.50 413.35 L108.50 413.35 L109.50 413.34 L110.50 413.34 L111.50 413.34 L112.50 413.33 L113.50 413.33 L114.50 413.32 L115.50 413.31 L116.50 413.31 L117.50 413.30 L118.50 413.29 L119.50 413.29 L120.50 413.28 L121.50 413.27 L122.50 413.26 L123.50 413.25 L124.50 413.24 L125.50 413.23 L126.50 413.22 L127.50 413.21 L128.50 413.20 L129.50 413.19 L130.50 413.18 L131.50 413.17 L132.50 413.16 L133.50 413.15 L134.50 413.14 L135.50 413.13 L136.50 413.12 L137.50 413.11 L138.50 413.10 L139.50 413.09 L140.50 413.08 L141.50 413.07 L142.50 413.06 L143.50 413.05 L144.50 413.04 L145.50 413.04 L146.50 413.03 L147.50 413.02 L148.50 413.01 L149.50 413.00 L150.50 413.00 L151.50 412.99 L152.50 412.98 L153.50 412.98 L154.50 412.97 L155.50 412.97 L156.50 412.96 L157.50 412.96 L158.50 412.96 L159.50 412.95 L160.50 412.95 L161.50 412.95 L162.50 412.95 L163.50 412.95 L164.50 412.95 L165.50 412.95 L166.50 412.96 L167.50 412.96 L168.50 412.96 L169.50 412.97 L170.50 412.97 L171.50 412.98 L172.50 412.99 L173.50 413.00 L174.50 413.01 L175.50 413.02 L176.50 413.03 L177.50 413.04 L178.50 413.06 L179.50 413.07 L180.50 413.09 L181.50 413.10 L182.50 413.12 L183.50 413.14 L184.50 413.16 L185.50 413.18 L186.50 413.21 L187.50 413.23 L188.50 413.26 L189.50 413.29 L190.50 413.31 L191.50 413.34 L192.50 413.38 L193.50 413.41 L194.50 413.45 L195.50 413.49 L196.50 413.53 L197.50 413.57 L198.50 413.62 L199.50 413.67 L200.50 413.73 L201.50 413.79 L202.50 413.85 L203.50 413.91 L204.50 413.98 L205.50 414.04 L206.50 414.10 L207.50 414.16 L208.50 414.22 L209.50 414.28 L210.50 414.32 L211.50 414.37 L212.50 414.41 L213.50 414.46 L214.50 414.51 L215.50 414.56 L216.50 414.63 L217.50 414.72 L218.50 414.81 L219.50 414.93 L220.50 415.07 L221.50 415.24 L222.50 415.42 L223.50 415.61 L224.50 415.82 L225.50 416.04 L226.50 416.26 L227.50 416.48 L228.50 416.71 L229.50 416.96 L230.50 417.24 L231.50 417.57 L232.50 417.95 L233.50 418.40 L234.50 418.91 L235.50 419.49 L236.50 420.10 L237.50 420.73 L238.50 421.38 L239.50 422.09 L240.50 422.90 L241.50 423.84 L242.50 424.90 L243.50 426.05 L244.50 427.27 L245.50 428.58 L246.50 430.08 L247.50 431.89 L248.50 434.13 L249.50 436.89 L250.50 440.14 L251.50 443.74 L252.50 447.56 L253.50 451.51 L254.50 455.51 L255.50 459.48 L256.50 463.43 L257.50 467.39 L258.50 471.42 L259.50 475.31 L260.50 478.59 L261.50 480.86 L262.50 482.00 L263.50 481.71 L264.50 478.72 L265.50 473.85 L266.50 470.35 L267.50 467.52 L268.50 464.25 L269.50 460.24 L270.50 456.08 L271.50 452.33 L272.50 449.10 L273.50 446.16 L274.50 443.28 L275.50 440.44 L276.50 437.78 L277.50 435.43 L278.50 433.45 L279.50 431.76 L280.50 430.28 L281.50 428.94 L282.50 427.66 L283.50 426.46 L284.50 425.33 L285.50 424.28 L286.50 423.31 L287.50 422.43 L288.50 421.64 L289.50 420.98 L290.50 420.42 L291.50 419.96 L292.50 419.58 L293.50 419.24 L294.50 418.94 L295.50 418.66 L296.50 418.37 L297.50 418.08 L298.50 417.80 L299.50 417.53 L300.50 417.27 L301.50 417.02 L302.50 416.78 L303.50 416.56 L304.50 416.35 L305.50 416.16 L306.50 415.99 L307.50 415.84 L308.50 415.71 L309.50 415.60 L310.50 415.51 L311.50 415.43 L312.50 415.36 L313.50 415.30 L314.50 415.26 L315.50 415.22 L316.50 415.19 L317.50 415.16 L318.50 415.14 L319.50 415.11 L320.50 415.09 L321.50 415.06 L322.50 415.03 L323.50 415.00 L324.50 414.97 L325.50 414.93 L326.50 414.90 L327.50 414.86 L328.50 414.83 L329.50 414.79 L330.50 414.75 L331.50 414.72 L332.50 414.68 L333.50 414.64 L334.50 414.60 L335.50 414.56 L336.50 414.53 L337.50 414.49 L338.50 414.45 L339.50 414.42 L340.50 414.38 L341.50 414.35 L342.50 414.32 L343.50 414.29 L344.50 414.26 L345.50 414.23 L346.50 414.21 L347.50 414.19 L348.50 414.17 L349.50 414.15 L350.50 414.13 L351.50 414.12 L352.50 414.11 L353.50 414.10 L354.50 414.10 L355.50 414.10" fill="none" stroke="#0000ff" stroke-width="2.00" stroke-linejoin="round"/>
<path d="M77.50 413.00 L78.50 413.04 L79.50 413.08 L80.50 413.12 L81.50 413.15 L82.50 413.18 L83.50 413.22 L84.50 413.24 L85.50 413.27 L86.50 413.30 L87.50 413.32 L88.50 413.35 L89.50 413.37 L90.50 413.40 L91.50 413.42 L92.50 413.44 L93.50 413.46 L94.50 413.48 L95.50 413.50 L96.50 413.52 L97.50 413.54 L98.50 413.57 L99.50 413.59 L100.50 413.61 L101.50 413.64 L102.50 413.66 L103.50 413.69 L104.50 413.71 L105.50 413.74 L106.50 413.77 L107.50 413.80 L108.50 413.83 L109.50 413.87 L110.50 413.91 L111.50 413.94 L112.50 413.99 L113.50 414.03 L114.50 414.08 L115.50 414.12 L116.50 414.18 L117.50 414.23 L118.50 414.29 L119.50 414.35 L120.50 414.41 L121.50 414.47 L122.50 414.53 L123.50 414.59 L124.50 414.65 L125.50 414.72 L126.50 414.78 L127.50 414.85 L128.50 414.91 L129.50 414.97 L130.50 415.03 L131.50 415.09 L132.50 415.15 L133.50 415.20 L134.50 415.26 L135.50 415.31 L136.50 415.36 L137.50 415.42 L138.50 415.46 L139.50 415.51 L140.50 415.56 L141.50 415.60 L142.50 415.64 L143.50 415.68 L144.50 415.72 L145.50 415.75 L146.50 415.78 L147.50 415.82 L148.50 415.84 L149.50 415.87 L150.50 415.89 L151.50 415.91 L152.50 415.93 L153.50 415.94 L154.50 415.96 L155.50 415.96 L156.50 415.97 L157.50 415.97 L158.50 415.97 L159.50 415.96 L160.50 415.95 L161.50 415.93 L162.50 415.91 L163.50 415.89 L164.50 415.86 L165.50 415.83 L166.50 415.79 L167.50 415.75 L168.50 415.71 L169.50 415.66 L170.50 415.62 L171.50 415.57 L172.50 415.52 L173.50 415.47 L174.50 415.42 L175.50 415.38 L176.50 415.33 L177.50 415.28 L178.50 415.23 L179.50 415.18 L180.50 415.14 L181.50 415.09 L182.50 415.04 L183.50 414.99 L184.50 414.94 L185.50 414.88 L186.50 414.83 L187.50 414.78 L188.50 414.72 L189.50 414.66 L190.50 414.60 L191.50 414.54 L192.50 414.47 L193.50 414.41 L194.50 414.34 L195.50 414.26 L196.50 414.19 L197.50 414.11 L198.50 414.03 L199.50 413.95 L200.50 413.86 L201.50 413.78 L202.50 413.69 L203.50 413.60 L204.50 413.51 L205.50 413.42 L206.50 413.33 L207.50 413.24 L208.50 413.16 L209.50 413.07 L210.50 412.98 L211.50 412.89 L212.50 412.81 L213.50 412.72 L214.50 412.64 L215.50 412.56 L216.50 412.48 L217.50 412.40 L218.50 412.32 L219.50 412.23 L220.50 412.14 L221.50 412.04 L222.50 411.93 L223.50 411.81 L224.50 411.67 L225.50 411.52 L226.50 411.35 L227.50 411.17 L228.50 410.97 L229.50 410.75 L230.50 410.51 L231.50 410.25 L232.50 409.96 L233.50 409.64 L234.50 409.27 L235.50 408.84 L236.50 408.34 L237.50 407.75 L238.50 407.07 L239.50 406.31 L240.50 405.46 L241.50 404.51 L242.50 403.43 L243.50 402.18 L244.50 400.75 L245.50 399.11 L246.50 397.31 L247.50 395.36 L248.50 393.32 L249.50 391.19 L250.50 388.60 L251.50 384.96 L252.50 380.27 L253.50 375.73 L254.50 371.88 L255.50 367.76 L256.50 363.06 L257.50 358.44 L258.50 354.33 L259.50 350.79 L260.50 347.86 L261.50 345.63 L262.50 344.60 L263.50 345.27 L264.50 346.97 L265.50 349.13 L266.50 352.28 L267.50 356.10 L268.50 359.91 L269.50 363.62 L270.50 368.04 L271.50 372.83 L272.50 376.51 L273.50 379.06 L274.50 381.70 L275.50 385.19 L276.50 388.87 L277.50 391.90 L278.50 394.08 L279.50 395.68 L280.50 397.02 L281.50 398.27 L282.50 399.45 L283.50 400.57 L284.50 401.63 L285.50 402.63 L286.50 403.59 L287.50 404.50 L288.50 405.36 L289.50 406.16 L290.50 406.88 L291.50 407.52 L292.50 408.06 L293.50 408.51 L294.50 408.89 L295.50 409.20 L296.50 409.48 L297.50 409.72 L298.50 409.94 L299.50 410.15 L300.50 410.33 L301.50 410.50 L302.50 410.66 L303.50 410.80 L304.50 410.94 L305.50 411.06 L306.50 411.17 L307.50 411.28 L308.50 411.38 L309.50 411.47 L310.50 411.55 L311.50 411.62 L312.50 411.69 L313.50 411.75 L314.50 411.80 L315.50 411.85 L316.50 411.89 L317.50 411.93 L318.50 411.96 L319.50 411.99 L320.50 412.01 L321.50 412.03 L322.50 412.04 L323.50 412.05 L324.50 412.06 L325.50 412.06 L326.50 412.07 L327.50 412.07 L328.50 412.06 L329.50 412.06 L330.50 412.05 L331.50 412.05 L332.50 412.04 L333.50 412.03 L334.50 412.02 L335.50 412.02 L336.50 412.01 L337.50 412.00 L338.50 412.00 L339.50 411.99 L340.50 411.99 L341.50 411.99 L342.50 412.00 L343.50 412.00 L344.50 412.01 L345.50 412.02 L346.50 412.04 L347.50 412.06 L348.50 412.08 L349.50 412.11 L350.50 412.14 L351.50 412.18 L352.50 412.23 L353.50 412.28 L354.50 412.34 L355.50 412.40" fill="none" stroke="#0000ff" stroke-width="2.00" stroke-linejoin="round" stroke-dasharray="7.8 8.5"/>
<path d="M77.50 413.00 L78.50 413.00 L79.50 412.99 L80.50 412.98 L81.50 412.98 L82.50 412.97 L83.50 412.96 L84.50 412.95 L85.50 412.93 L86.50 412.92 L87.50 412.91 L88.50 412.89 L89.50 412.87 L90.50 412.86 L91.50 412.84 L92.50 412.82 L93.50 412.80 L94.50 412.78 L95.50 412.75 L96.50 412.73 L97.50 412.70 L98.50 412.68 L99.50 412.65 L100.50 412.62 L101.50 412.59 L102.50 412.56 L103.50 412.53 L104.50 412.50 L105.50 412.46 L106.50 412.43 L107.50 412.39 L108.50 412.36 L109.50 412.32 L110.50 412.28 L111.50 412.24 L112.50 412.20 L113.50 412.16 L114.50 412.11 L115.50 412.07 L116.50 412.02 L117.50 411.98 L118.50 411.93 L119.50 411.88 L120.50 411.83 L121.50 411.78 L122.50 411.73 L123.50 411.67 L124.50 411.62 L125.50 411.56 L126.50 411.51 L127.50 411.45 L128.50 411.39 L129.50 411.33 L130.50 411.27 L131.50 411.21 L132.50 411.14 L133.50 411.08 L134.50 411.02 L135.50 410.96 L136.50 410.89 L137.50 410.83 L138.50 410.77 L139.50 410.71 L140.50 410.65 L141.50 410.59 L142.50 410.54 L143.50 410.48 L144.50 410.43 L145.50 410.38 L146.50 410.34 L147.50 410.29 L148.50 410.25 L149.50 410.22 L150.50 410.18 L151.50 410.16 L152.50 410.13 L153.50 410.11 L154.50 410.09 L155.50 410.08 L156.50 410.07 L157.50 410.06 L158.50 410.06 L159.50 410.06 L160.50 410.06 L161.50 410.06 L162.50 410.07 L163.50 410.08 L164.50 410.09 L165.50 410.11 L166.50 410.13 L167.50 410.14 L168.50 410.17 L169.50 410.19 L170.50 410.21 L171.50 410.24 L172.50 410.27 L173.50 410.30 L174.50 410.33 L175.50 410.36 L176.50 410.39 L177.50 410.43 L178.50 410.46 L179.50 410.50 L180.50 410.53 L181.50 410.57 L182.50 410.61 L183.50 410.65 L184.50 410.69 L185.50 410.73 L186.50 410.77 L187.50 410.81 L188.50 410.85 L189.50 410.89 L190.50 410.93 L191.50 410.97 L192.50 411.01 L193.50 411.05 L194.50 411.09 L195.50 411.13 L196.50 411.17 L197.50 411.21 L198.50 411.25 L199.50 411.28 L200.50 411.32 L201.50 411.35 L202.50 411.39 L203.50 411.42 L204.50 411.45 L205.50 411.48 L206.50 411.51 L207.50 411.54 L208.50 411.57 L209.50 411.60 L210.50 411.62 L211.50 411.65 L212.50 411.67 L213.50 411.70 L214.50 411.72 L215.50 411.74 L216.50 411.77 L217.50 411.79 L218.50 411.81 L219.50 411.83 L220.50 411.85 L221.50 411.87 L222.50 411.88 L223.50 411.90 L224.50 411.92 L225.50 411.93 L226.50 411.95 L227.50 411.97 L228.50 411.98 L229.50 411.99 L230.50 412.01 L231.50 412.02 L232.50 412.03 L233.50 412.04 L234.50 412.05 L235.50 412.07 L236.50 412.08 L237.50 412.09 L238.50 412.09 L239.50 412.10 L240.50 412.11 L241.50 412.12 L242.50 412.13 L243.50 412.13 L244.50 412.14 L245.50 412.15 L246.50 412.15 L247.50 412.16 L248.50 412.16 L249.50 412.17 L250.50 412.17 L251.50 412.18 L252.50 412.18 L253.50 412.18 L254.50 412.19 L255.50 412.19 L256.50 412.19 L257.50 412.20 L258.50 412.20 L259.50 412.20 L260.50 412.20 L261.50 412.20 L262.50 412.20 L263.50 412.20 L264.50 412.20 L265.50 412.20 L266.50 412.20 L267.50 412.20 L268.50 412.20 L269.50 412.20 L270.50 412.20 L271.50 412.20 L272.50 412.20 L273.50 412.20 L274.50 412.19 L275.50 412.19 L276.50 412.19 L277.50 412.19 L278.50 412.19 L279.50 412.18 L280.50 412.18 L281.50 412.18 L282.50 412.18 L283.50 412.17 L284.50 412.17 L285.50 412.17 L286.50 412.16 L287.50 412.16 L288.50 412.16 L289.50 412.15 L290.50 412.15 L291.50 412.15 L292.50 412.15 L293.50 412.14 L294.50 412.14 L295.50 412.14 L296.50 412.13 L297.50 412.13 L298.50 412.13 L299.50 412.12 L300.50 412.12 L301.50 412.12 L302.50 412.12 L303.50 412.11 L304.50 412.11 L305.50 412.11 L306.50 412.10 L307.50 412.10 L308.50 412.10 L309.50 412.10 L310.50 412.10 L311.50 412.10 L312.50 412.09 L313.50 412.09 L314.50 412.09 L315.50 412.09 L316.50 412.09 L317.50 412.09 L318.50 412.09 L319.50 412.09 L320.50 412.09 L321.50 412.09 L322.50 412.09 L323.50 412.09 L324.50 412.09 L325.50 412.09 L326.50 412.09 L327.50 412.10 L328.50 412.10 L329.50 412.10 L330.50 412.10 L331.50 412.11 L332.50 412.11 L333.50 412.11 L334.50 412.12 L335.50 412.12 L336.50 412.13 L337.50 412.13 L338.50 412.14 L339.50 412.14 L340.50 412.15 L341.50 412.16 L342.50 412.16 L343.50 412.17 L344.50 412.18 L345.50 412.19 L346.50 412.20 L347.50 412.21 L348.50 412.22 L349.50 412.23 L350.50 412.24 L351.50 412.25 L352.50 412.26 L353.50 412.27 L354.50 412.29 L355.50 412.30" fill="none" stroke="#ff0000" stroke-width="2.00" stroke-linejoin="round" stroke-dasharray="8.0 2.1 4.1 2.1"/>
<path d="M464.80 413.20 L465.80 413.20 L466.80 413.19 L467.80 413.18 L468.80 413.18 L469.80 413.17 L470.80 413.16 L471.80 413.15 L472.80 413.13 L473.80 413.12 L474.80 413.11 L475.80 413.09 L476.80 413.07 L477.80 413.06 L478.80 413.04 L479.80 413.02 L480.80 413.00 L481.80 412.98 L482.80 412.95 L483.80 412.93 L484.80 412.90 L485.80 412.88 L486.80 412.85 L487.80 412.82 L488.80 412.79 L489.80 412.76 L490.80 412.73 L491.80 412.70 L492.80 412.66 L493.80 412.63 L494.80 412.59 L495.80 412.56 L496.80 412.52 L497.80 412.48 L498.80 412.44 L499.80 412.40 L500.80 412.36 L501.80 412.31 L502.80 412.27 L503.80 412.22 L504.80 412.18 L505.80 412.13 L506.80 412.08 L507.80 412.03 L508.80 411.98 L509.80 411.93 L510.80 411.87 L511.80 411.82 L512.80 411.76 L513.80 411.71 L514.80 411.65 L515.80 411.59 L516.80 411.53 L517.80 411.47 L518.80 411.41 L519.80 411.34 L520.80 411.28 L521.80 411.22 L522.80 411.16 L523.80 411.09 L524.80 411.03 L525.80 410.97 L526.80 410.91 L527.80 410.85 L528.80 410.79 L529.80 410.74 L530.80 410.68 L531.80 410.63 L532.80 410.58 L533.80 410.54 L534.80 410.49 L535.80 410.45 L536.80 410.42 L537.80 410.38 L538.80 410.36 L539.80 410.33 L540.80 410.31 L541.80 410.29 L542.80 410.28 L543.80 410.27 L544.80 410.26 L545.80 410.26 L546.80 410.26 L547.80 410.26 L548.80 410.26 L549.80 410.27 L550.80 410.28 L551.80 410.29 L552.80 410.31 L553.80 410.33 L554.80 410.34 L555.80 410.37 L556.80 410.39 L557.80 410.41 L558.80 410.44 L559.80 410.47 L560.80 410.50 L561.80 410.53 L562.80 410.56 L563.80 410.59 L564.80 410.63 L565.80 410.66 L566.80 410.70 L567.80 410.73 L568.80 410.77 L569.80 410.81 L570.80 410.85 L571.80 410.89 L572.80 410.93 L573.80 410.97 L574.80 411.01 L575.80 411.05 L576.80 411.09 L577.80 411.13 L578.80 411.17 L579.80 411.21 L580.80 411.25 L581.80 411.29 L582.80 411.33 L583.80 411.37 L584.80 411.41 L585.80 411.45 L586.80 411.48 L587.80 411.52 L588.80 411.55 L589.80 411.59 L590.80 411.62 L591.80 411.65 L592.80 411.68 L593.80 411.71 L594.80 411.74 L595.80 411.77 L596.80 411.80 L597.80 411.82 L598.80 411.85 L599.80 411.87 L600.80 411.90 L601.80 411.92 L602.80 411.94 L603.80 411.97 L604.80 411.99 L605.80 412.01 L606.80 412.03 L607.80 412.05 L608.80 412.07 L609.80 412.08 L610.80 412.10 L611.80 412.12 L612.80 412.13 L613.80 412.15 L614.80 412.17 L615.80 412.18 L616.80 412.19 L617.80 412.21 L618.80 412.22 L619.80 412.23 L620.80 412.24 L621.80 412.25 L622.80 412.27 L623.80 412.28 L624.80 412.29 L625.80 412.29 L626.80 412.30 L627.80 412.31 L628.80 412.32 L629.80 412.33 L630.80 412.33 L631.80 412.34 L632.80 412.35 L633.80 412.35 L634.80 412.36 L635.80 412.36 L636.80 412.37 L637.80 412.37 L638.80 412.38 L639.80 412.38 L640.80 412.38 L641.80 412.39 L642.80 412.39 L643.80 412.39 L644.80 412.40 L645.80 412.40 L646.80 412.40 L647.80 412.40 L648.80 412.40 L649.80 412.40 L650.80 412.40 L651.80 412.40 L652.80 412.40 L653.80 412.40 L654.80 412.40 L655.80 412.40 L656.80 412.40 L657.80 412.40 L658.80 412.40 L659.80 412.40 L660.80 412.40 L661.80 412.39 L662.80 412.39 L663.80 412.39 L664.80 412.39 L665.80 412.39 L666.80 412.38 L667.80 412.38 L668.80 412.38 L669.80 412.38 L670.80 412.37 L671.80 412.37 L672.80 412.37 L673.80 412.36 L674.80 412.36 L675.80 412.36 L676.80 412.35 L677.80 412.35 L678.80 412.35 L679.80 412.35 L680.80 412.34 L681.80 412.34 L682.80 412.34 L683.80 412.33 L684.80 412.33 L685.80 412.33 L686.80 412.32 L687.80 412.32 L688.80 412.32 L689.80 412.32 L690.80 412.31 L691.80 412.31 L692.80 412.31 L693.80 412.30 L694.80 412.30 L695.80 412.30 L696.80 412.30 L697.80 412.30 L698.80 412.30 L699.80 412.29 L700.80 412.29 L701.80 412.29 L702.80 412.29 L703.80 412.29 L704.80 412.29 L705.80 412.29 L706.80 412.29 L707.80 412.29 L708.80 412.29 L709.80 412.29 L710.80 412.29 L711.80 412.29 L712.80 412.29 L713.80 412.29 L714.80 412.30 L715.80 412.30 L716.80 412.30 L717.80 412.30 L718.80 412.31 L719.80 412.31 L720.80 412.31 L721.80 412.32 L722.80 412.32 L723.80 412.33 L724.80 412.33 L725.80 412.34 L726.80 412.34 L727.80 412.35 L728.80 412.36 L729.80 412.36 L730.80 412.37 L731.80 412.38 L732.80 412.39 L733.80 412.40 L734.80 412.41 L735.80 412.42 L736.80 412.43 L737.80 412.44 L738.80 412.45 L739.80 412.46 L740.80 412.47 L741.80 412.49 L742.80 412.50" fill="none" stroke="#0000ff" stroke-width="2.00" stroke-linejoin="round"/>
<path d="M464.80 413.00 L465.80 413.04 L466.80 413.08 L467.80 413.12 L468.80 413.15 L469.80 413.18 L470.80 413.22 L471.80 413.24 L472.80 413.27 L473.80 413.30 L474.80 413.32 L475.80 413.35 L476.80 413.37 L477.80 413.40 L478.80 413.42 L479.80 413.44 L480.80 413.46 L481.80 413.48 L482.80 413.50 L483.80 413.52 L484.80 413.54 L485.80 413.57 L486.80 413.59 L487.80 413.61 L488.80 413.64 L489.80 413.66 L490.80 413.69 L491.80 413.71 L492.80 413.74 L493.80 413.77 L494.80 413.80 L495.80 413.83 L496.80 413.87 L497.80 413.91 L498.80 413.94 L499.80 413.99 L500.80 414.03 L501.80 414.08 L502.80 414.12 L503.80 414.18 L504.80 414.23 L505.80 414.29 L506.80 414.35 L507.80 414.41 L508.80 414.47 L509.80 414.53 L510.80 414.59 L511.80 414.65 L512.80 414.72 L513.80 414.78 L514.80 414.85 L515.80 414.91 L516.80 414.97 L517.80 415.03 L518.80 415.09 L519.80 415.15 L520.80 415.20 L521.80 415.26 L522.80 415.31 L523.80 415.36 L524.80 415.42 L525.80 415.46 L526.80 415.51 L527.80 415.56 L528.80 415.60 L529.80 415.64 L530.80 415.68 L531.80 415.72 L532.80 415.75 L533.80 415.78 L534.80 415.82 L535.80 415.84 L536.80 415.87 L537.80 415.89 L538.80 415.91 L539.80 415.93 L540.80 415.94 L541.80 415.96 L542.80 415.96 L543.80 415.97 L544.80 415.97 L545.80 415.97 L546.80 415.96 L547.80 415.95 L548.80 415.93 L549.80 415.91 L550.80 415.89 L551.80 415.86 L552.80 415.83 L553.80 415.79 L554.80 415.75 L555.80 415.71 L556.80 415.66 L557.80 415.62 L558.80 415.57 L559.80 415.52 L560.80 415.47 L561.80 415.42 L562.80 415.38 L563.80 415.33 L564.80 415.28 L565.80 415.23 L566.80 415.18 L567.80 415.14 L568.80 415.09 L569.80 415.04 L570.80 414.99 L571.80 414.94 L572.80 414.88 L573.80 414.83 L574.80 414.78 L575.80 414.72 L576.80 414.66 L577.80 414.60 L578.80 414.54 L579.80 414.47 L580.80 414.41 L581.80 414.34 L582.80 414.26 L583.80 414.19 L584.80 414.11 L585.80 414.03 L586.80 413.95 L587.80 413.86 L588.80 413.78 L589.80 413.69 L590.80 413.60 L591.80 413.51 L592.80 413.42 L593.80 413.33 L594.80 413.24 L595.80 413.16 L596.80 413.07 L597.80 412.98 L598.80 412.89 L599.80 412.81 L600.80 412.72 L601.80 412.64 L602.80 412.56 L603.80 412.48 L604.80 412.40 L605.80 412.32 L606.80 412.23 L607.80 412.14 L608.80 412.04 L609.80 411.93 L610.80 411.81 L611.80 411.67 L612.80 411.52 L613.80 411.35 L614.80 411.17 L615.80 410.97 L616.80 410.75 L617.80 410.51 L618.80 410.25 L619.80 409.96 L620.80 409.64 L621.80 409.27 L622.80 408.84 L623.80 408.34 L624.80 407.75 L625.80 407.07 L626.80 406.31 L627.80 405.46 L628.80 404.51 L629.80 403.43 L630.80 402.18 L631.80 400.75 L632.80 399.11 L633.80 397.31 L634.80 395.36 L635.80 393.32 L636.80 391.19 L637.80 388.60 L638.80 384.96 L639.80 380.27 L640.80 375.73 L641.80 371.88 L642.80 367.76 L643.80 363.06 L644.80 358.44 L645.80 354.33 L646.80 350.79 L647.80 347.86 L648.80 345.63 L649.80 344.60 L650.80 345.27 L651.80 346.97 L652.80 349.13 L653.80 352.28 L654.80 356.10 L655.80 359.91 L656.80 363.62 L657.80 368.04 L658.80 372.83 L659.80 376.51 L660.80 379.06 L661.80 381.70 L662.80 385.19 L663.80 388.87 L664.80 391.90 L665.80 394.08 L666.80 395.68 L667.80 397.02 L668.80 398.27 L669.80 399.45 L670.80 400.57 L671.80 401.63 L672.80 402.63 L673.80 403.59 L674.80 404.50 L675.80 405.36 L676.80 406.16 L677.80 406.88 L678.80 407.52 L679.80 408.06 L680.80 408.51 L681.80 408.89 L682.80 409.20 L683.80 409.48 L684.80 409.72 L685.80 409.94 L686.80 410.15 L687.80 410.33 L688.80 410.50 L689.80 410.66 L690.80 410.80 L691.80 410.94 L692.80 411.06 L693.80 411.17 L694.80 411.28 L695.80 411.38 L696.80 411.47 L697.80 411.55 L698.80 411.62 L699.80 411.69 L700.80 411.75 L701.80 411.80 L702.80 411.85 L703.80 411.89 L704.80 411.93 L705.80 411.96 L706.80 411.99 L707.80 412.01 L708.80 412.03 L709.80 412.04 L710.80 412.05 L711.80 412.06 L712.80 412.06 L713.80 412.07 L714.80 412.07 L715.80 412.06 L716.80 412.06 L717.80 412.05 L718.80 412.05 L719.80 412.04 L720.80 412.03 L721.80 412.02 L722.80 412.02 L723.80 412.01 L724.80 412.00 L725.80 412.00 L726.80 411.99 L727.80 411.99 L728.80 411.99 L729.80 412.00 L730.80 412.00 L731.80 412.01 L732.80 412.02 L733.80 412.04 L734.80 412.06 L735.80 412.08 L736.80 412.11 L737.80 412.14 L738.80 412.18 L739.80 412.23 L740.80 412.28 L741.80 412.34 L742.80 412.40" fill="none" stroke="#0000ff" stroke-width="2.00" stroke-linejoin="round" stroke-dasharray="7.8 8.5"/>
<path d="M464.80 413.20 L465.80 413.23 L466.80 413.25 L467.80 413.28 L468.80 413.30 L469.80 413.33 L470.80 413.35 L471.80 413.37 L472.80 413.39 L473.80 413.41 L474.80 413.42 L475.80 413.44 L476.80 413.45 L477.80 413.46 L478.80 413.48 L479.80 413.49 L480.80 413.50 L481.80 413.51 L482.80 413.52 L483.80 413.52 L484.80 413.53 L485.80 413.53 L486.80 413.54 L487.80 413.54 L488.80 413.55 L489.80 413.55 L490.80 413.55 L491.80 413.55 L492.80 413.55 L493.80 413.55 L494.80 413.55 L495.80 413.55 L496.80 413.54 L497.80 413.54 L498.80 413.54 L499.80 413.53 L500.80 413.53 L501.80 413.52 L502.80 413.51 L503.80 413.51 L504.80 413.50 L505.80 413.49 L506.80 413.49 L507.80 413.48 L508.80 413.47 L509.80 413.46 L510.80 413.45 L511.80 413.44 L512.80 413.43 L513.80 413.42 L514.80 413.41 L515.80 413.40 L516.80 413.39 L517.80 413.38 L518.80 413.37 L519.80 413.36 L520.80 413.35 L521.80 413.34 L522.80 413.33 L523.80 413.32 L524.80 413.31 L525.80 413.30 L526.80 413.29 L527.80 413.28 L528.80 413.27 L529.80 413.26 L530.80 413.25 L531.80 413.24 L532.80 413.24 L533.80 413.23 L534.80 413.22 L535.80 413.21 L536.80 413.20 L537.80 413.20 L538.80 413.19 L539.80 413.18 L540.80 413.18 L541.80 413.17 L542.80 413.17 L543.80 413.16 L544.80 413.16 L545.80 413.16 L546.80 413.15 L547.80 413.15 L548.80 413.15 L549.80 413.15 L550.80 413.15 L551.80 413.15 L552.80 413.15 L553.80 413.16 L554.80 413.16 L555.80 413.16 L556.80 413.17 L557.80 413.17 L558.80 413.18 L559.80 413.19 L560.80 413.20 L561.80 413.21 L562.80 413.22 L563.80 413.23 L564.80 413.24 L565.80 413.26 L566.80 413.27 L567.80 413.29 L568.80 413.30 L569.80 413.32 L570.80 413.34 L571.80 413.36 L572.80 413.38 L573.80 413.41 L574.80 413.43 L575.80 413.46 L576.80 413.49 L577.80 413.51 L578.80 413.54 L579.80 413.58 L580.80 413.61 L581.80 413.65 L582.80 413.69 L583.80 413.73 L584.80 413.77 L585.80 413.82 L586.80 413.87 L587.80 413.93 L588.80 413.99 L589.80 414.05 L590.80 414.11 L591.80 414.18 L592.80 414.24 L593.80 414.30 L594.80 414.36 L595.80 414.42 L596.80 414.48 L597.80 414.52 L598.80 414.57 L599.80 414.61 L600.80 414.66 L601.80 414.71 L602.80 414.76 L603.80 414.83 L604.80 414.92 L605.80 415.01 L606.80 415.13 L607.80 415.27 L608.80 415.44 L609.80 415.62 L610.80 415.81 L611.80 416.02 L612.80 416.24 L613.80 416.46 L614.80 416.68 L615.80 416.91 L616.80 417.16 L617.80 417.44 L618.80 417.77 L619.80 418.15 L620.80 418.60 L621.80 419.11 L622.80 419.69 L623.80 420.30 L624.80 420.93 L625.80 421.58 L626.80 422.29 L627.80 423.10 L628.80 424.04 L629.80 425.10 L630.80 426.25 L631.80 427.47 L632.80 428.78 L633.80 430.28 L634.80 432.09 L635.80 434.33 L636.80 437.09 L637.80 440.34 L638.80 443.94 L639.80 447.76 L640.80 451.71 L641.80 455.71 L642.80 459.68 L643.80 463.63 L644.80 467.59 L645.80 471.62 L646.80 475.51 L647.80 478.79 L648.80 481.06 L649.80 482.20 L650.80 481.91 L651.80 478.92 L652.80 474.05 L653.80 470.55 L654.80 467.72 L655.80 464.45 L656.80 460.44 L657.80 456.28 L658.80 452.53 L659.80 449.30 L660.80 446.36 L661.80 443.48 L662.80 440.64 L663.80 437.98 L664.80 435.63 L665.80 433.65 L666.80 431.96 L667.80 430.48 L668.80 429.14 L669.80 427.86 L670.80 426.66 L671.80 425.53 L672.80 424.48 L673.80 423.51 L674.80 422.63 L675.80 421.84 L676.80 421.18 L677.80 420.62 L678.80 420.16 L679.80 419.78 L680.80 419.44 L681.80 419.14 L682.80 418.86 L683.80 418.57 L684.80 418.28 L685.80 418.00 L686.80 417.73 L687.80 417.47 L688.80 417.22 L689.80 416.98 L690.80 416.76 L691.80 416.55 L692.80 416.36 L693.80 416.19 L694.80 416.04 L695.80 415.91 L696.80 415.80 L697.80 415.71 L698.80 415.63 L699.80 415.56 L700.80 415.50 L701.80 415.46 L702.80 415.42 L703.80 415.39 L704.80 415.36 L705.80 415.34 L706.80 415.31 L707.80 415.29 L708.80 415.26 L709.80 415.23 L710.80 415.20 L711.80 415.17 L712.80 415.13 L713.80 415.10 L714.80 415.06 L715.80 415.03 L716.80 414.99 L717.80 414.95 L718.80 414.92 L719.80 414.88 L720.80 414.84 L721.80 414.80 L722.80 414.76 L723.80 414.73 L724.80 414.69 L725.80 414.65 L726.80 414.62 L727.80 414.58 L728.80 414.55 L729.80 414.52 L730.80 414.49 L731.80 414.46 L732.80 414.43 L733.80 414.41 L734.80 414.39 L735.80 414.37 L736.80 414.35 L737.80 414.33 L738.80 414.32 L739.80 414.31 L740.80 414.30 L741.80 414.30 L742.80 414.30" fill="none" stroke="#ff0000" stroke-width="2.00" stroke-linejoin="round" stroke-dasharray="8.0 2.1 4.1 2.1"/>
<line x1="77.50" y1="161.40" x2="81.10" y2="161.40" stroke="#262626" stroke-width="1.80"/>
<line x1="355.50" y1="161.40" x2="351.90" y2="161.40" stroke="#262626" stroke-width="1.80"/>
<line x1="77.50" y1="101.60" x2="81.10" y2="101.60" stroke="#262626" stroke-width="1.80"/>
<line x1="355.50" y1="101.60" x2="351.90" y2="101.60" stroke="#262626" stroke-width="1.80"/>
<line x1="77.50" y1="41.80" x2="81.10" y2="41.80" stroke="#262626" stroke-width="1.80"/>
<line x1="355.50" y1="41.80" x2="351.90" y2="41.80" stroke="#262626" stroke-width="1.80"/>
<line x1="170.70" y1="221.20" x2="170.70" y2="217.60" stroke="#262626" stroke-width="1.80"/>
<line x1="170.70" y1="5.60" x2="170.70" y2="9.20" stroke="#262626" stroke-width="1.80"/>
<line x1="263.70" y1="221.20" x2="263.70" y2="217.60" stroke="#262626" stroke-width="1.80"/>
<line x1="263.70" y1="5.60" x2="263.70" y2="9.20" stroke="#262626" stroke-width="1.80"/>
<rect x="77.50" y="5.60" width="278.00" height="215.60" fill="none" stroke="#262626" stroke-width="2"/>
<line x1="464.80" y1="168.57" x2="468.40" y2="168.57" stroke="#262626" stroke-width="1.80"/>
<line x1="742.70" y1="168.57" x2="739.10" y2="168.57" stroke="#262626" stroke-width="1.80"/>
<line x1="464.80" y1="115.85" x2="468.40" y2="115.85" stroke="#262626" stroke-width="1.80"/>
<line x1="742.70" y1="115.85" x2="739.10" y2="115.85" stroke="#262626" stroke-width="1.80"/>
<line x1="464.80" y1="63.13" x2="468.40" y2="63.13" stroke="#262626" stroke-width="1.80"/>
<line x1="742.70" y1="63.13" x2="739.10" y2="63.13" stroke="#262626" stroke-width="1.80"/>
<line x1="464.80" y1="10.40" x2="468.40" y2="10.40" stroke="#262626" stroke-width="1.80"/>
<line x1="742.70" y1="10.40" x2="739.10" y2="10.40" stroke="#262626" stroke-width="1.80"/>
<line x1="557.90" y1="221.20" x2="557.90" y2="217.60" stroke="#262626" stroke-width="1.80"/>
<line x1="557.90" y1="5.60" x2="557.90" y2="9.20" stroke="#262626" stroke-width="1.80"/>
<line x1="650.80" y1="221.20" x2="650.80" y2="217.60" stroke="#262626" stroke-width="1.80"/>
<line x1="650.80" y1="5.60" x2="650.80" y2="9.20" stroke="#262626" stroke-width="1.80"/>
<rect x="464.80" y="5.60" width="277.90" height="215.60" fill="none" stroke="#262626" stroke-width="2"/>
<line x1="77.50" y1="467.20" x2="81.10" y2="467.20" stroke="#262626" stroke-width="1.80"/>
<line x1="355.50" y1="467.20" x2="351.90" y2="467.20" stroke="#262626" stroke-width="1.80"/>
<line x1="77.50" y1="413.10" x2="81.10" y2="413.10" stroke="#262626" stroke-width="1.80"/>
<line x1="355.50" y1="413.10" x2="351.90" y2="413.10" stroke="#262626" stroke-width="1.80"/>
<line x1="77.50" y1="359.00" x2="81.10" y2="359.00" stroke="#262626" stroke-width="1.80"/>
<line x1="355.50" y1="359.00" x2="351.90" y2="359.00" stroke="#262626" stroke-width="1.80"/>
<line x1="216.50" y1="521.20" x2="216.50" y2="517.60" stroke="#262626" stroke-width="1.80"/>
<line x1="216.50" y1="304.90" x2="216.50" y2="308.50" stroke="#262626" stroke-width="1.80"/>
<rect x="77.50" y="304.90" width="278.00" height="216.30" fill="none" stroke="#262626" stroke-width="2"/>
<line x1="464.80" y1="467.20" x2="468.40" y2="467.20" stroke="#262626" stroke-width="1.80"/>
<line x1="742.70" y1="467.20" x2="739.10" y2="467.20" stroke="#262626" stroke-width="1.80"/>
<line x1="464.80" y1="413.10" x2="468.40" y2="413.10" stroke="#262626" stroke-width="1.80"/>
<line x1="742.70" y1="413.10" x2="739.10" y2="413.10" stroke="#262626" stroke-width="1.80"/>
<line x1="464.80" y1="359.00" x2="468.40" y2="359.00" stroke="#262626" stroke-width="1.80"/>
<line x1="742.70" y1="359.00" x2="739.10" y2="359.00" stroke="#262626" stroke-width="1.80"/>
<line x1="603.80" y1="521.20" x2="603.80" y2="517.60" stroke="#262626" stroke-width="1.80"/>
<line x1="603.80" y1="304.90" x2="603.80" y2="308.50" stroke="#262626" stroke-width="1.80"/>
<rect x="464.80" y="304.90" width="277.90" height="216.30" fill="none" stroke="#262626" stroke-width="2"/>
<path transform="translate(55.84 228.70) scale(26.000 -26.000)" d="M0.266 0 L0.352 0 L0.352 0.709 L0.283 0.709 C0.268 0.640 0.215 0.580 0.109 0.570 L0.109 0.500 L0.266 0.500 Z" fill="#262626"/>
<path transform="translate(34.16 168.90) scale(26.000 -26.000)" d="M0.266 0 L0.352 0 L0.352 0.709 L0.283 0.709 C0.268 0.640 0.215 0.580 0.109 0.570 L0.109 0.500 L0.266 0.500 Z" fill="#262626"/>
<text x="48.62" y="168.90" font-family="'Liberation Sans', sans-serif" font-size="26.00" fill="#262626">.</text>
<text x="55.84" y="168.90" font-family="'Liberation Sans', sans-serif" font-size="26.00" fill="#262626">5</text>
<text x="70.30" y="109.10" font-family="'Liberation Sans', sans-serif" font-size="26.00" fill="#262626" text-anchor="end" >2</text>
<text x="70.30" y="49.30" font-family="'Liberation Sans', sans-serif" font-size="26.00" fill="#262626" text-anchor="end" >2.5</text>
<path transform="translate(421.36 228.80) scale(26.000 -26.000)" d="M0.266 0 L0.352 0 L0.352 0.709 L0.283 0.709 C0.268 0.640 0.215 0.580 0.109 0.570 L0.109 0.500 L0.266 0.500 Z" fill="#262626"/>
<text x="435.82" y="228.80" font-family="'Liberation Sans', sans-serif" font-size="26.00" fill="#262626">.</text>
<text x="443.04" y="228.80" font-family="'Liberation Sans', sans-serif" font-size="26.00" fill="#262626">9</text>
<path transform="translate(406.90 176.07) scale(26.000 -26.000)" d="M0.266 0 L0.352 0 L0.352 0.709 L0.283 0.709 C0.268 0.640 0.215 0.580 0.109 0.570 L0.109 0.500 L0.266 0.500 Z" fill="#262626"/>
<text x="421.36" y="176.07" font-family="'Liberation Sans', sans-serif" font-size="26.00" fill="#262626">.</text>
<text x="428.58" y="176.07" font-family="'Liberation Sans', sans-serif" font-size="26.00" fill="#262626">9</text>
<text x="443.04" y="176.07" font-family="'Liberation Sans', sans-serif" font-size="26.00" fill="#262626">5</text>
<text x="457.50" y="123.35" font-family="'Liberation Sans', sans-serif" font-size="26.00" fill="#262626" text-anchor="end" >2</text>
<text x="457.50" y="70.63" font-family="'Liberation Sans', sans-serif" font-size="26.00" fill="#262626" text-anchor="end" >2.05</text>
<text x="421.36" y="17.90" font-family="'Liberation Sans', sans-serif" font-size="26.00" fill="#262626">2</text>
<text x="435.82" y="17.90" font-family="'Liberation Sans', sans-serif" font-size="26.00" fill="#262626">.</text>
<path transform="translate(443.04 17.90) scale(26.000 -26.000)" d="M0.266 0 L0.352 0 L0.352 0.709 L0.283 0.709 C0.268 0.640 0.215 0.580 0.109 0.570 L0.109 0.500 L0.266 0.500 Z" fill="#262626"/>
<text x="70.45" y="526.95" font-family="'Liberation Sans', sans-serif" font-size="21.00" fill="#262626" text-anchor="end" >-20</text>
<text x="40.10" y="472.90" font-family="'Liberation Sans', sans-serif" font-size="21.00" fill="#262626">-</text>
<path transform="translate(47.09 472.90) scale(21.000 -21.000)" d="M0.266 0 L0.352 0 L0.352 0.709 L0.283 0.709 C0.268 0.640 0.215 0.580 0.109 0.570 L0.109 0.500 L0.266 0.500 Z" fill="#262626"/>
<text x="58.77" y="472.90" font-family="'Liberation Sans', sans-serif" font-size="21.00" fill="#262626">0</text>
<text x="70.45" y="418.85" font-family="'Liberation Sans', sans-serif" font-size="21.00" fill="#262626" text-anchor="end" >0</text>
<path transform="translate(47.09 364.80) scale(21.000 -21.000)" d="M0.266 0 L0.352 0 L0.352 0.709 L0.283 0.709 C0.268 0.640 0.215 0.580 0.109 0.570 L0.109 0.500 L0.266 0.500 Z" fill="#262626"/>
<text x="58.77" y="364.80" font-family="'Liberation Sans', sans-serif" font-size="21.00" fill="#262626">0</text>
<text x="70.45" y="310.75" font-family="'Liberation Sans', sans-serif" font-size="21.00" fill="#262626" text-anchor="end" >20</text>
<text x="77.50" y="543.50" font-family="'Liberation Sans', sans-serif" font-size="21.00" fill="#262626" text-anchor="middle" >0</text>
<text x="216.50" y="543.50" font-family="'Liberation Sans', sans-serif" font-size="21.00" fill="#262626" text-anchor="middle" >0.5</text>
<path transform="translate(349.66 543.50) scale(21.000 -21.000)" d="M0.266 0 L0.352 0 L0.352 0.709 L0.283 0.709 C0.268 0.640 0.215 0.580 0.109 0.570 L0.109 0.500 L0.266 0.500 Z" fill="#262626"/>
<text x="457.75" y="526.95" font-family="'Liberation Sans', sans-serif" font-size="21.00" fill="#262626" text-anchor="end" >-20</text>
<text x="427.40" y="472.90" font-family="'Liberation Sans', sans-serif" font-size="21.00" fill="#262626">-</text>
<path transform="translate(434.39 472.90) scale(21.000 -21.000)" d="M0.266 0 L0.352 0 L0.352 0.709 L0.283 0.709 C0.268 0.640 0.215 0.580 0.109 0.570 L0.109 0.500 L0.266 0.500 Z" fill="#262626"/>
<text x="446.07" y="472.90" font-family="'Liberation Sans', sans-serif" font-size="21.00" fill="#262626">0</text>
<text x="457.75" y="418.85" font-family="'Liberation Sans', sans-serif" font-size="21.00" fill="#262626" text-anchor="end" >0</text>
<path transform="translate(434.39 364.80) scale(21.000 -21.000)" d="M0.266 0 L0.352 0 L0.352 0.709 L0.283 0.709 C0.268 0.640 0.215 0.580 0.109 0.570 L0.109 0.500 L0.266 0.500 Z" fill="#262626"/>
<text x="446.07" y="364.80" font-family="'Liberation Sans', sans-serif" font-size="21.00" fill="#262626">0</text>
<text x="457.75" y="310.75" font-family="'Liberation Sans', sans-serif" font-size="21.00" fill="#262626" text-anchor="end" >20</text>
<text x="464.80" y="543.50" font-family="'Liberation Sans', sans-serif" font-size="21.00" fill="#262626" text-anchor="middle" >0</text>
<text x="603.80" y="543.50" font-family="'Liberation Sans', sans-serif" font-size="21.00" fill="#262626" text-anchor="middle" >0.5</text>
<path transform="translate(736.96 543.50) scale(21.000 -21.000)" d="M0.266 0 L0.352 0 L0.352 0.709 L0.283 0.709 C0.268 0.640 0.215 0.580 0.109 0.570 L0.109 0.500 L0.266 0.500 Z" fill="#262626"/>
<text transform="translate(75.27 245.85) scale(1.0550 1.1149)" font-family="'Liberation Serif', serif" font-style="normal" font-weight="bold" font-size="20.00" fill="#000">Γ</text>
<text transform="translate(161.59 245.85) scale(1.0559 1.1149)" font-family="'Liberation Serif', serif" font-style="normal" font-weight="bold" font-size="20.00" fill="#000">K</text>
<text transform="translate(250.37 245.85) scale(1.1248 1.1149)" font-family="'Liberation Serif', serif" font-style="normal" font-weight="bold" font-size="20.00" fill="#000">M</text>
<text transform="translate(348.27 245.85) scale(1.0550 1.1149)" font-family="'Liberation Serif', serif" font-style="normal" font-weight="bold" font-size="20.00" fill="#000">Γ</text>
<text transform="translate(463.37 247.25) scale(1.0550 1.1149)" font-family="'Liberation Serif', serif" font-style="normal" font-weight="bold" font-size="20.00" fill="#000">Γ</text>
<text transform="translate(548.29 247.25) scale(1.0559 1.1149)" font-family="'Liberation Serif', serif" font-style="normal" font-weight="bold" font-size="20.00" fill="#000">K</text>
<text transform="translate(637.67 247.25) scale(1.1248 1.1149)" font-family="'Liberation Serif', serif" font-style="normal" font-weight="bold" font-size="20.00" fill="#000">M</text>
<text transform="translate(737.57 247.25) scale(1.0550 1.1149)" font-family="'Liberation Serif', serif" font-style="normal" font-weight="bold" font-size="20.00" fill="#000">Γ</text>
<g transform="translate(180.70 21.70) scale(1.000)" fill="none" stroke="#000" stroke-linecap="round"><path d="M9.0 4.9 C10.2 3.6 10.9 2.0 10.2 1.1 C9.2 0.1 6.5 0.6 4.6 2.3 C2.6 4.1 1.2 7.2 1.2 10.0 C1.2 12.6 2.6 14.4 4.6 14.4 C6.4 14.4 8.0 13.2 9.8 11.7" stroke-width="1.05"/><path d="M3.6 3.6 C2.0 5.6 1.3 8.0 1.4 10.2 C1.5 12.3 2.4 13.6 3.8 14.1" stroke-width="1.9"/><circle cx="9.2" cy="4.8" r="0.85" fill="#000" stroke="none"/></g>
<line x1="199.40" y1="28.80" x2="212.70" y2="28.80" stroke="#000" stroke-width="0.95"/>
<line x1="199.40" y1="32.90" x2="212.70" y2="32.90" stroke="#000" stroke-width="0.95"/>
<text transform="translate(220.15 36.10) scale(0.9090 1.0641)" font-family="'Liberation Serif', serif" font-style="normal" font-weight="normal" font-size="20.00" fill="#000">1</text>
<g transform="translate(174.40 88.40) scale(1.000)" fill="none" stroke="#000" stroke-linecap="round"><path d="M9.0 4.9 C10.2 3.6 10.9 2.0 10.2 1.1 C9.2 0.1 6.5 0.6 4.6 2.3 C2.6 4.1 1.2 7.2 1.2 10.0 C1.2 12.6 2.6 14.4 4.6 14.4 C6.4 14.4 8.0 13.2 9.8 11.7" stroke-width="1.05"/><path d="M3.6 3.6 C2.0 5.6 1.3 8.0 1.4 10.2 C1.5 12.3 2.4 13.6 3.8 14.1" stroke-width="1.9"/><circle cx="9.2" cy="4.8" r="0.85" fill="#000" stroke="none"/></g>
<line x1="193.10" y1="95.50" x2="206.40" y2="95.50" stroke="#000" stroke-width="0.95"/>
<line x1="193.10" y1="99.60" x2="206.40" y2="99.60" stroke="#000" stroke-width="0.95"/>
<text transform="translate(214.54 102.89) scale(0.9320 1.0707)" font-family="'Liberation Serif', serif" font-style="normal" font-weight="normal" font-size="20.00" fill="#000">0</text>
<g transform="translate(178.80 167.30) scale(1.000)" fill="none" stroke="#000" stroke-linecap="round"><path d="M9.0 4.9 C10.2 3.6 10.9 2.0 10.2 1.1 C9.2 0.1 6.5 0.6 4.6 2.3 C2.6 4.1 1.2 7.2 1.2 10.0 C1.2 12.6 2.6 14.4 4.6 14.4 C6.4 14.4 8.0 13.2 9.8 11.7" stroke-width="1.05"/><path d="M3.6 3.6 C2.0 5.6 1.3 8.0 1.4 10.2 C1.5 12.3 2.4 13.6 3.8 14.1" stroke-width="1.9"/><circle cx="9.2" cy="4.8" r="0.85" fill="#000" stroke="none"/></g>
<line x1="197.50" y1="174.40" x2="210.80" y2="174.40" stroke="#000" stroke-width="0.95"/>
<line x1="197.50" y1="178.50" x2="210.80" y2="178.50" stroke="#000" stroke-width="0.95"/>
<line x1="219.60" y1="176.45" x2="231.60" y2="176.45" stroke="#000" stroke-width="0.95"/>
<text transform="translate(233.85 181.70) scale(0.9090 1.0641)" font-family="'Liberation Serif', serif" font-style="normal" font-weight="normal" font-size="20.00" fill="#000">1</text>
<g transform="translate(568.60 41.70) scale(1.000)" fill="none" stroke="#000" stroke-linecap="round"><path d="M9.0 4.9 C10.2 3.6 10.9 2.0 10.2 1.1 C9.2 0.1 6.5 0.6 4.6 2.3 C2.6 4.1 1.2 7.2 1.2 10.0 C1.2 12.6 2.6 14.4 4.6 14.4 C6.4 14.4 8.0 13.2 9.8 11.7" stroke-width="1.05"/><path d="M3.6 3.6 C2.0 5.6 1.3 8.0 1.4 10.2 C1.5 12.3 2.4 13.6 3.8 14.1" stroke-width="1.9"/><circle cx="9.2" cy="4.8" r="0.85" fill="#000" stroke="none"/></g>
<line x1="587.30" y1="48.80" x2="600.60" y2="48.80" stroke="#000" stroke-width="0.95"/>
<line x1="587.30" y1="52.90" x2="600.60" y2="52.90" stroke="#000" stroke-width="0.95"/>
<line x1="609.40" y1="50.85" x2="621.40" y2="50.85" stroke="#000" stroke-width="0.95"/>
<text transform="translate(623.65 56.10) scale(0.9090 1.0641)" font-family="'Liberation Serif', serif" font-style="normal" font-weight="normal" font-size="20.00" fill="#000">1</text>
<g transform="translate(572.40 116.50) scale(1.000)" fill="none" stroke="#000" stroke-linecap="round"><path d="M9.0 4.9 C10.2 3.6 10.9 2.0 10.2 1.1 C9.2 0.1 6.5 0.6 4.6 2.3 C2.6 4.1 1.2 7.2 1.2 10.0 C1.2 12.6 2.6 14.4 4.6 14.4 C6.4 14.4 8.0 13.2 9.8 11.7" stroke-width="1.05"/><path d="M3.6 3.6 C2.0 5.6 1.3 8.0 1.4 10.2 C1.5 12.3 2.4 13.6 3.8 14.1" stroke-width="1.9"/><circle cx="9.2" cy="4.8" r="0.85" fill="#000" stroke="none"/></g>
<line x1="591.10" y1="123.60" x2="604.40" y2="123.60" stroke="#000" stroke-width="0.95"/>
<line x1="591.10" y1="127.70" x2="604.40" y2="127.70" stroke="#000" stroke-width="0.95"/>
<text transform="translate(612.54 130.99) scale(0.9320 1.0707)" font-family="'Liberation Serif', serif" font-style="normal" font-weight="normal" font-size="20.00" fill="#000">0</text>
<g transform="translate(578.50 176.20) scale(1.000)" fill="none" stroke="#000" stroke-linecap="round"><path d="M9.0 4.9 C10.2 3.6 10.9 2.0 10.2 1.1 C9.2 0.1 6.5 0.6 4.6 2.3 C2.6 4.1 1.2 7.2 1.2 10.0 C1.2 12.6 2.6 14.4 4.6 14.4 C6.4 14.4 8.0 13.2 9.8 11.7" stroke-width="1.05"/><path d="M3.6 3.6 C2.0 5.6 1.3 8.0 1.4 10.2 C1.5 12.3 2.4 13.6 3.8 14.1" stroke-width="1.9"/><circle cx="9.2" cy="4.8" r="0.85" fill="#000" stroke="none"/></g>
<line x1="597.20" y1="183.30" x2="610.50" y2="183.30" stroke="#000" stroke-width="0.95"/>
<line x1="597.20" y1="187.40" x2="610.50" y2="187.40" stroke="#000" stroke-width="0.95"/>
<text transform="translate(617.95 190.60) scale(0.9090 1.0641)" font-family="'Liberation Serif', serif" font-style="normal" font-weight="normal" font-size="20.00" fill="#000">1</text>
<rect x="87.70" y="315.50" width="93.20" height="87.30" fill="#fff" stroke="#262626" stroke-width="2"/>
<path d="M93.90 331.10 L124.40 331.10" fill="none" stroke="#0000ff" stroke-width="2.00" stroke-linejoin="round"/>
<text transform="translate(127.17 337.60) scale(1.0944 1.0950)" font-family="'Liberation Serif', serif" font-style="normal" font-weight="normal" font-size="20.00" fill="#000">Ω</text>
<text transform="translate(141.98 340.60) scale(0.6959 0.7120)" font-family="'Liberation Serif', serif" font-style="normal" font-weight="normal" font-size="20.00" fill="#000">1</text>
<text transform="translate(152.12 338.13) scale(0.7787 1.1194)" font-family="'Liberation Serif', serif" font-style="normal" font-weight="normal" font-size="20.00" fill="#000">(</text>
<text transform="translate(159.35 337.85) scale(1.0356 1.0521)" font-family="'Liberation Serif', serif" font-style="italic" font-weight="normal" font-size="20.00" fill="#000">k</text>
<line x1="160.80" y1="319.50" x2="168.00" y2="319.50" stroke="#000" stroke-width="1.00"/>
<path d="M170.20 319.50 L166.60 317.80 L166.60 321.20 Z" fill="#000"/>
<text transform="translate(170.47 338.13) scale(0.8176 1.1194)" font-family="'Liberation Serif', serif" font-style="normal" font-weight="normal" font-size="20.00" fill="#000">)</text>
<path d="M93.90 359.10 L124.40 359.10" fill="none" stroke="#0000ff" stroke-width="2.00" stroke-linejoin="round" stroke-dasharray="7.8 8.5"/>
<text transform="translate(127.17 365.60) scale(1.0944 1.0950)" font-family="'Liberation Serif', serif" font-style="normal" font-weight="normal" font-size="20.00" fill="#000">Ω</text>
<text transform="translate(142.66 368.60) scale(0.6112 0.7099)" font-family="'Liberation Serif', serif" font-style="normal" font-weight="normal" font-size="20.00" fill="#000">2</text>
<text transform="translate(152.12 366.13) scale(0.7787 1.1194)" font-family="'Liberation Serif', serif" font-style="normal" font-weight="normal" font-size="20.00" fill="#000">(</text>
<text transform="translate(159.35 365.85) scale(1.0356 1.0521)" font-family="'Liberation Serif', serif" font-style="italic" font-weight="normal" font-size="20.00" fill="#000">k</text>
<line x1="160.80" y1="347.50" x2="168.00" y2="347.50" stroke="#000" stroke-width="1.00"/>
<path d="M170.20 347.50 L166.60 345.80 L166.60 349.20 Z" fill="#000"/>
<text transform="translate(170.47 366.13) scale(0.8176 1.1194)" font-family="'Liberation Serif', serif" font-style="normal" font-weight="normal" font-size="20.00" fill="#000">)</text>
<path d="M93.90 387.10 L124.40 387.10" fill="none" stroke="#ff0000" stroke-width="2.00" stroke-linejoin="round" stroke-dasharray="8.0 2.1 4.1 2.1"/>
<text transform="translate(127.17 393.60) scale(1.0944 1.0950)" font-family="'Liberation Serif', serif" font-style="normal" font-weight="normal" font-size="20.00" fill="#000">Ω</text>
<text transform="translate(142.63 396.46) scale(0.5931 0.6995)" font-family="'Liberation Serif', serif" font-style="normal" font-weight="normal" font-size="20.00" fill="#000">3</text>
<text transform="translate(152.12 394.13) scale(0.7787 1.1194)" font-family="'Liberation Serif', serif" font-style="normal" font-weight="normal" font-size="20.00" fill="#000">(</text>
<text transform="translate(159.35 393.85) scale(1.0356 1.0521)" font-family="'Liberation Serif', serif" font-style="italic" font-weight="normal" font-size="20.00" fill="#000">k</text>
<line x1="160.80" y1="375.50" x2="168.00" y2="375.50" stroke="#000" stroke-width="1.00"/>
<path d="M170.20 375.50 L166.60 373.80 L166.60 377.20 Z" fill="#000"/>
<text transform="translate(170.47 394.13) scale(0.8176 1.1194)" font-family="'Liberation Serif', serif" font-style="normal" font-weight="normal" font-size="20.00" fill="#000">)</text>
<rect x="475.00" y="315.50" width="93.20" height="87.30" fill="#fff" stroke="#262626" stroke-width="2"/>
<path d="M481.20 331.10 L511.70 331.10" fill="none" stroke="#0000ff" stroke-width="2.00" stroke-linejoin="round"/>
<text transform="translate(514.47 337.60) scale(1.0944 1.0950)" font-family="'Liberation Serif', serif" font-style="normal" font-weight="normal" font-size="20.00" fill="#000">Ω</text>
<text transform="translate(529.28 340.60) scale(0.6959 0.7120)" font-family="'Liberation Serif', serif" font-style="normal" font-weight="normal" font-size="20.00" fill="#000">1</text>
<text transform="translate(539.42 338.13) scale(0.7787 1.1194)" font-family="'Liberation Serif', serif" font-style="normal" font-weight="normal" font-size="20.00" fill="#000">(</text>
<text transform="translate(546.65 337.85) scale(1.0356 1.0521)" font-family="'Liberation Serif', serif" font-style="italic" font-weight="normal" font-size="20.00" fill="#000">k</text>
<line x1="548.10" y1="319.50" x2="555.30" y2="319.50" stroke="#000" stroke-width="1.00"/>
<path d="M557.50 319.50 L553.90 317.80 L553.90 321.20 Z" fill="#000"/>
<text transform="translate(557.77 338.13) scale(0.8176 1.1194)" font-family="'Liberation Serif', serif" font-style="normal" font-weight="normal" font-size="20.00" fill="#000">)</text>
<path d="M481.20 359.10 L511.70 359.10" fill="none" stroke="#0000ff" stroke-width="2.00" stroke-linejoin="round" stroke-dasharray="7.8 8.5"/>
<text transform="translate(514.47 365.60) scale(1.0944 1.0950)" font-family="'Liberation Serif', serif" font-style="normal" font-weight="normal" font-size="20.00" fill="#000">Ω</text>
<text transform="translate(529.96 368.60) scale(0.6112 0.7099)" font-family="'Liberation Serif', serif" font-style="normal" font-weight="normal" font-size="20.00" fill="#000">2</text>
<text transform="translate(539.42 366.13) scale(0.7787 1.1194)" font-family="'Liberation Serif', serif" font-style="normal" font-weight="normal" font-size="20.00" fill="#000">(</text>
<text transform="translate(546.65 365.85) scale(1.0356 1.0521)" font-family="'Liberation Serif', serif" font-style="italic" font-weight="normal" font-size="20.00" fill="#000">k</text>
<line x1="548.10" y1="347.50" x2="555.30" y2="347.50" stroke="#000" stroke-width="1.00"/>
<path d="M557.50 347.50 L553.90 345.80 L553.90 349.20 Z" fill="#000"/>
<text transform="translate(557.77 366.13) scale(0.8176 1.1194)" font-family="'Liberation Serif', serif" font-style="normal" font-weight="normal" font-size="20.00" fill="#000">)</text>
<path d="M481.20 387.10 L511.70 387.10" fill="none" stroke="#ff0000" stroke-width="2.00" stroke-linejoin="round" stroke-dasharray="8.0 2.1 4.1 2.1"/>
<text transform="translate(514.47 393.60) scale(1.0944 1.0950)" font-family="'Liberation Serif', serif" font-style="normal" font-weight="normal" font-size="20.00" fill="#000">Ω</text>
<text transform="translate(529.93 396.46) scale(0.5931 0.6995)" font-family="'Liberation Serif', serif" font-style="normal" font-weight="normal" font-size="20.00" fill="#000">3</text>
<text transform="translate(539.42 394.13) scale(0.7787 1.1194)" font-family="'Liberation Serif', serif" font-style="normal" font-weight="normal" font-size="20.00" fill="#000">(</text>
<text transform="translate(546.65 393.85) scale(1.0356 1.0521)" font-family="'Liberation Serif', serif" font-style="italic" font-weight="normal" font-size="20.00" fill="#000">k</text>
<line x1="548.10" y1="375.50" x2="555.30" y2="375.50" stroke="#000" stroke-width="1.00"/>
<path d="M557.50 375.50 L553.90 373.80 L553.90 377.20 Z" fill="#000"/>
<text transform="translate(557.77 394.13) scale(0.8176 1.1194)" font-family="'Liberation Serif', serif" font-style="normal" font-weight="normal" font-size="20.00" fill="#000">)</text>
<text transform="translate(194.16 567.55) scale(1.0240 1.0305)" font-family="'Liberation Serif', serif" font-style="italic" font-weight="normal" font-size="20.00" fill="#000">k</text>
<text transform="translate(205.74 571.15) scale(0.7800 0.6863)" font-family="'Liberation Serif', serif" font-style="italic" font-weight="normal" font-size="20.00" fill="#000">x</text>
<line x1="224.60" y1="551.90" x2="216.00" y2="575.50" stroke="#000" stroke-width="1.10"/>
<text transform="translate(227.03 567.65) scale(1.0992 1.0133)" font-family="'Liberation Serif', serif" font-style="italic" font-weight="normal" font-size="20.00" fill="#000">π</text>
<text transform="translate(581.46 567.55) scale(1.0240 1.0305)" font-family="'Liberation Serif', serif" font-style="italic" font-weight="normal" font-size="20.00" fill="#000">k</text>
<text transform="translate(593.04 571.15) scale(0.7800 0.6863)" font-family="'Liberation Serif', serif" font-style="italic" font-weight="normal" font-size="20.00" fill="#000">x</text>
<line x1="611.90" y1="551.90" x2="603.30" y2="575.50" stroke="#000" stroke-width="1.10"/>
<text transform="translate(614.33 567.65) scale(1.0992 1.0133)" font-family="'Liberation Serif', serif" font-style="italic" font-weight="normal" font-size="20.00" fill="#000">π</text>
<g transform="translate(21.30 148.4) rotate(-90)"><text transform="translate(-0.27 -0.18) scale(1.5804 1.3367)" font-family="'Liberation Serif', serif" font-style="italic" font-weight="normal" font-size="20.00" fill="#000" stroke="#fff" stroke-width="0.30">ħ</text><text transform="translate(15.71 -1.10) scale(1.2769 1.1591)" font-family="'Liberation Serif', serif" font-style="italic" font-weight="normal" font-size="20.00" fill="#000" stroke="#fff" stroke-width="0.30">ϵ</text><text transform="translate(27.88 9.52) scale(0.8553 0.8611)" font-family="'Liberation Serif', serif" font-style="italic" font-weight="normal" font-size="20.00" fill="#000" stroke="#fff" stroke-width="0.30">k</text><text transform="translate(54.60 -0.45) scale(1.5766 1.3957)" font-family="'Liberation Serif', serif" font-style="italic" font-weight="normal" font-size="20.00" fill="#000" stroke="#fff" stroke-width="0.30">J</text><line x1="29.20" y1="-7.30" x2="35.60" y2="-7.30" stroke="#000" stroke-width="0.9"/><path d="M37.20 -7.30 L34.20 -8.90 L34.20 -5.70 Z" fill="#000"/><line x1="41.10" y1="5.60" x2="51.20" y2="-20.10" stroke="#000" stroke-width="1.1"/></g>
<g transform="translate(394.30 148.4) rotate(-90)"><text transform="translate(-0.27 -0.18) scale(1.5804 1.3367)" font-family="'Liberation Serif', serif" font-style="italic" font-weight="normal" font-size="20.00" fill="#000" stroke="#fff" stroke-width="0.30">ħ</text><text transform="translate(15.71 -1.10) scale(1.2769 1.1591)" font-family="'Liberation Serif', serif" font-style="italic" font-weight="normal" font-size="20.00" fill="#000" stroke="#fff" stroke-width="0.30">ϵ</text><text transform="translate(27.88 9.52) scale(0.8553 0.8611)" font-family="'Liberation Serif', serif" font-style="italic" font-weight="normal" font-size="20.00" fill="#000" stroke="#fff" stroke-width="0.30">k</text><text transform="translate(54.60 -0.45) scale(1.5766 1.3957)" font-family="'Liberation Serif', serif" font-style="italic" font-weight="normal" font-size="20.00" fill="#000" stroke="#fff" stroke-width="0.30">J</text><line x1="29.20" y1="-7.30" x2="35.60" y2="-7.30" stroke="#000" stroke-width="0.9"/><path d="M37.20 -7.30 L34.20 -8.90 L34.20 -5.70 Z" fill="#000"/><line x1="41.10" y1="5.60" x2="51.20" y2="-20.10" stroke="#000" stroke-width="1.1"/></g>
<text transform="translate(-0.23 30.20) scale(1.1881 1.5220)" font-family="'Liberation Sans', sans-serif" font-style="normal" font-weight="normal" font-size="20.00" fill="#000">(</text>
<text transform="translate(9.26 30.75) scale(1.4017 1.5241)" font-family="'Liberation Sans', sans-serif" font-style="normal" font-weight="normal" font-size="20.00" fill="#000">a</text>
<text transform="translate(27.15 30.20) scale(1.3012 1.5220)" font-family="'Liberation Sans', sans-serif" font-style="normal" font-weight="normal" font-size="20.00" fill="#000">)</text>
<text transform="translate(375.97 24.93) scale(1.1503 1.5618)" font-family="'Liberation Sans', sans-serif" font-style="normal" font-weight="normal" font-size="20.00" fill="#000">(</text>
<text transform="translate(384.69 24.95) scale(1.6010 1.5183)" font-family="'Liberation Sans', sans-serif" font-style="normal" font-weight="normal" font-size="20.00" fill="#000">b</text>
<text transform="translate(403.46 24.93) scale(1.2258 1.5618)" font-family="'Liberation Sans', sans-serif" font-style="normal" font-weight="normal" font-size="20.00" fill="#000">)</text>
<text transform="translate(4.80 335.19) scale(1.1315 1.5242)" font-family="'Liberation Sans', sans-serif" font-style="normal" font-weight="normal" font-size="20.00" fill="#000">(</text>
<text transform="translate(13.81 335.75) scale(1.5772 1.5241)" font-family="'Liberation Sans', sans-serif" font-style="normal" font-weight="normal" font-size="20.00" fill="#000">c</text>
<text transform="translate(31.18 335.19) scale(1.0561 1.5242)" font-family="'Liberation Sans', sans-serif" font-style="normal" font-weight="normal" font-size="20.00" fill="#000">)</text>
<text transform="translate(391.27 337.01) scale(1.1503 1.5671)" font-family="'Liberation Sans', sans-serif" font-style="normal" font-weight="normal" font-size="20.00" fill="#000">(</text>
<text transform="translate(400.04 336.55) scale(1.5566 1.5115)" font-family="'Liberation Sans', sans-serif" font-style="normal" font-weight="normal" font-size="20.00" fill="#000">d</text>
<text transform="translate(418.86 337.01) scale(1.2258 1.5671)" font-family="'Liberation Sans', sans-serif" font-style="normal" font-weight="normal" font-size="20.00" fill="#000">)</text>
</svg></body></html>
